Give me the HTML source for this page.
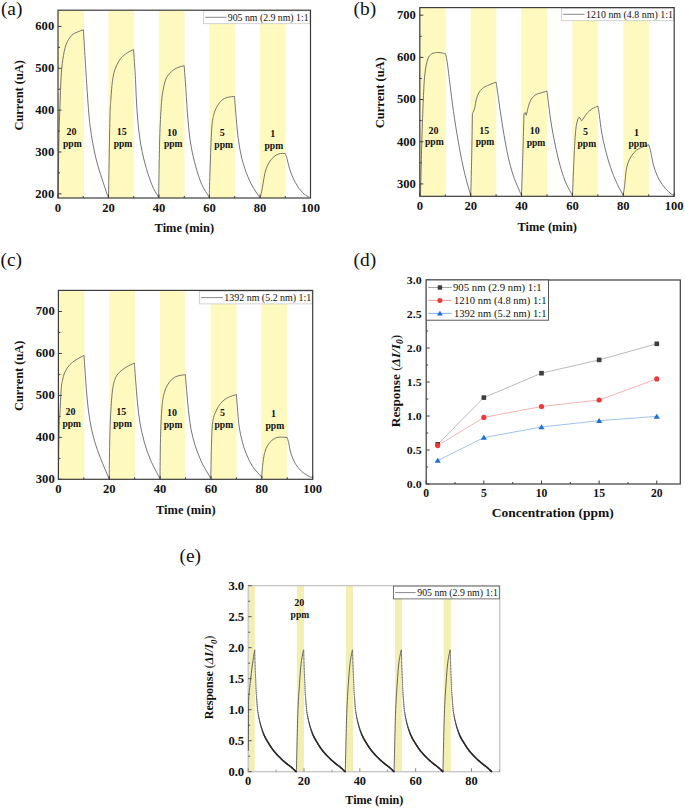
<!DOCTYPE html><html><head><meta charset="utf-8"><style>html,body{margin:0;padding:0;background:#fff;}svg{display:block;}</style></head><body>
<svg width="685" height="809" viewBox="0 0 685 809" font-family="'Liberation Serif', serif">
<rect width="685" height="809" fill="#fff"/>
<rect x="58" y="10.2" width="26" height="187.8" fill="#fef9be" stroke="none" stroke-width="0"/>
<rect x="108.3" y="10.2" width="25.7" height="187.8" fill="#fef9be" stroke="none" stroke-width="0"/>
<rect x="158.8" y="10.2" width="25.8" height="187.8" fill="#fef9be" stroke="none" stroke-width="0"/>
<rect x="209.3" y="10.2" width="25.7" height="187.8" fill="#fef9be" stroke="none" stroke-width="0"/>
<rect x="259.8" y="10.2" width="25.7" height="187.8" fill="#fef9be" stroke="none" stroke-width="0"/>
<path d="M58 197.5 C58.08 192.08 58.32 176.25 58.5 165 C58.68 153.75 58.85 140 59.1 130 C59.35 120 59.67 113.78 60 105 C60.33 96.22 60.63 84.88 61.1 77.3 C61.57 69.72 61.97 64.97 62.8 59.5 C63.63 54.03 64.62 48.52 66.1 44.5 C67.58 40.48 69.8 37.48 71.7 35.4 C73.6 33.32 75.55 32.93 77.5 32 C79.45 31.07 82.42 30.17 83.4 29.8 C83.98 39.28 85.77 70.55 86.9 86.7 C88.03 102.85 88.72 114.85 90.2 126.7 C91.68 138.55 93.77 148.92 95.8 157.8 C97.83 166.68 100.43 173.7 102.4 180 C104.37 186.3 106.58 192.68 107.6 195.6 C108.62 198.52 108.35 197.18 108.5 197.5 C108.73 184.58 109.5 136.37 109.9 120 C110.3 103.63 110.48 105.72 110.9 99.3 C111.32 92.88 111.73 86.43 112.4 81.5 C113.07 76.57 113.67 73.32 114.9 69.7 C116.13 66.08 117.98 62.45 119.8 59.8 C121.62 57.15 123.5 55.5 125.8 53.8 C128.1 52.1 132.3 50.3 133.6 49.6 C133.92 54.6 134.95 69.65 135.5 79.6 C136.05 89.55 136.17 99.4 136.9 109.3 C137.63 119.2 138.58 130.08 139.9 139 C141.22 147.92 142.82 155.2 144.8 162.8 C146.78 170.4 149.58 179 151.8 184.6 C154.02 190.2 156.97 194.25 158.1 196.4 C159.23 198.55 158.52 197.32 158.6 197.5 C158.78 187.75 159.25 154.37 159.7 139 C160.15 123.63 160.72 113.55 161.3 105.3 C161.88 97.05 162.32 94.12 163.2 89.5 C164.08 84.88 165.03 80.73 166.6 77.6 C168.17 74.47 170.78 72.35 172.6 70.7 C174.42 69.05 175.57 68.53 177.5 67.7 C179.43 66.87 183.08 66.03 184.2 65.7 C184.48 69.67 185.28 80.58 185.9 89.5 C186.52 98.42 187.07 109.95 187.9 119.2 C188.73 128.45 189.58 137.08 190.9 145 C192.22 152.92 193.98 160.1 195.8 166.7 C197.62 173.3 199.65 179.65 201.8 184.6 C203.95 189.55 207.47 194.25 208.7 196.4 C209.93 198.55 209.12 197.32 209.2 197.5 C209.35 192.7 209.68 180.1 210.1 168.7 C210.52 157.3 211.1 138.02 211.7 129.1 C212.3 120.18 212.88 118.83 213.7 115.2 C214.52 111.57 215.28 109.77 216.6 107.3 C217.92 104.83 219.78 102.05 221.6 100.4 C223.42 98.75 225.35 98.07 227.5 97.4 C229.65 96.73 233.33 96.57 234.5 96.4 C234.8 100.2 235.67 112.1 236.3 119.2 C236.93 126.3 237.37 132.4 238.3 139 C239.23 145.6 240.32 152.53 241.9 158.8 C243.48 165.07 245.82 171.65 247.8 176.6 C249.78 181.55 251.88 185.13 253.8 188.5 C255.72 191.87 258.3 195.3 259.3 196.8 C260.3 198.3 259.72 197.38 259.8 197.5 C259.9 197.42 260 198.45 260.4 197 C260.8 195.55 261.62 191.9 262.2 188.8 C262.78 185.7 263.25 181.72 263.9 178.4 C264.55 175.08 265.17 171.63 266.1 168.9 C267.03 166.17 268.22 164.02 269.5 162 C270.78 159.98 272.22 158.17 273.8 156.8 C275.38 155.43 277.12 154.35 279 153.8 C280.88 153.25 284.08 153.55 285.1 153.5 C285.38 154.2 286.08 155.27 286.8 157.7 C287.52 160.13 288.38 164.78 289.4 168.1 C290.42 171.42 291.45 174.43 292.9 177.6 C294.35 180.77 296.23 184.37 298.1 187.1 C299.97 189.83 302.23 192.3 304.1 194 C305.97 195.7 308.43 196.75 309.3 197.3" fill="none" stroke="#666666" stroke-width="0.9" stroke-linejoin="round" />
<rect x="419.8" y="7.6" width="25.8" height="188.7" fill="#fef9be" stroke="none" stroke-width="0"/>
<rect x="470.6" y="7.6" width="25.6" height="188.7" fill="#fef9be" stroke="none" stroke-width="0"/>
<rect x="521.4" y="7.6" width="25.6" height="188.7" fill="#fef9be" stroke="none" stroke-width="0"/>
<rect x="572.3" y="7.6" width="25.6" height="188.7" fill="#fef9be" stroke="none" stroke-width="0"/>
<rect x="623.3" y="7.6" width="25.6" height="188.7" fill="#fef9be" stroke="none" stroke-width="0"/>
<path d="M420.5 195.4 C420.57 192.5 420.67 187.4 420.9 178 C421.13 168.6 421.5 152.1 421.9 139 C422.3 125.9 422.8 110.28 423.3 99.4 C423.8 88.52 424.13 80.47 424.9 73.7 C425.67 66.93 426.75 62.1 427.9 58.8 C429.05 55.5 430.32 54.95 431.8 53.9 C433.28 52.85 435.27 52.68 436.8 52.5 C438.33 52.32 439.52 52.57 441 52.8 C442.48 53.03 444.92 53.72 445.7 53.9 C446.03 55.87 446.88 59.77 447.7 65.7 C448.52 71.63 449.45 80.58 450.6 89.5 C451.75 98.42 453.1 109.3 454.6 119.2 C456.1 129.1 457.95 139.98 459.6 148.9 C461.25 157.82 462.7 165.1 464.5 172.7 C466.3 180.3 469.35 190.72 470.4 194.5 C471.45 198.28 470.73 195.25 470.8 195.4 C470.98 187.25 471.63 160.13 471.9 146.5 C472.17 132.87 472.32 119.08 472.4 113.6 C472.6 113.17 473.17 112.15 473.6 111 C474.03 109.85 474.57 108.57 475 106.7 C475.43 104.83 475.57 102.1 476.2 99.8 C476.83 97.5 477.78 94.78 478.8 92.9 C479.82 91.02 480.85 89.72 482.3 88.5 C483.75 87.28 485.2 86.67 487.5 85.6 C489.8 84.53 494.67 82.68 496.1 82.1 C496.4 84.18 497.18 89.63 497.9 94.6 C498.62 99.57 499.4 105.27 500.4 111.9 C501.4 118.53 502.6 126.92 503.9 134.4 C505.2 141.88 506.62 149.88 508.2 156.8 C509.78 163.72 511.23 169.55 513.4 175.9 C515.57 182.25 519.85 191.65 521.2 194.9 C522.55 198.15 521.45 195.32 521.5 195.4 C521.77 187.25 522.68 160.13 523.1 146.5 C523.52 132.87 523.85 119.08 524 113.6 C524.23 113.45 525.17 112.85 525.4 112.7 C525.53 113.13 526.07 114.87 526.2 115.3 C526.35 114.73 526.67 113.62 527.1 111.9 C527.53 110.18 528.08 107.17 528.8 105 C529.52 102.83 530.23 100.63 531.4 98.9 C532.57 97.17 534.22 95.6 535.8 94.6 C537.38 93.6 539.03 93.48 540.9 92.9 C542.77 92.32 545.98 91.4 547 91.1 C547.28 93.42 547.98 99.52 548.7 105 C549.42 110.48 550.28 117.67 551.3 124 C552.32 130.33 553.5 136.67 554.8 143 C556.1 149.33 557.38 155.67 559.1 162 C560.82 168.33 562.93 175.52 565.1 181 C567.27 186.48 570.87 192.5 572.1 194.9 C573.33 197.3 572.43 195.32 572.5 195.4 C572.78 188.55 573.67 165.12 574.2 154.3 C574.73 143.48 575.13 136.2 575.7 130.5 C576.27 124.8 576.98 122.33 577.6 120.1 C578.22 117.87 579.1 117.6 579.4 117.1 C579.77 117.72 581.23 120.18 581.6 120.8 C581.97 120.32 582.82 119.25 583.8 117.9 C584.78 116.55 586.13 114.18 587.5 112.7 C588.87 111.22 590.27 110.12 592 109 C593.73 107.88 596.92 106.5 597.9 106 C598.15 107.6 598.78 111.27 599.4 115.6 C600.02 119.93 600.6 126.3 601.6 132 C602.6 137.7 603.9 143.87 605.4 149.8 C606.9 155.73 608.75 162.15 610.6 167.6 C612.45 173.05 614.4 177.92 616.5 182.5 C618.6 187.08 622.08 193 623.2 195.1 C623.47 193.52 624.33 188.03 624.8 184.1 C625.27 180.17 625.48 175.3 626 171.8 C626.52 168.3 626.97 165.78 627.9 163.1 C628.83 160.42 630.15 157.87 631.6 155.7 C633.05 153.53 634.75 151.55 636.6 150.1 C638.45 148.65 640.65 147.88 642.7 147 C644.75 146.12 647.87 145.17 648.9 144.8 C649.22 146 650.07 148.75 650.8 152 C651.53 155.25 652.17 160.18 653.3 164.3 C654.43 168.42 655.85 172.98 657.6 176.7 C659.35 180.42 661.73 183.88 663.8 186.6 C665.87 189.32 668.3 191.52 670 193 C671.7 194.48 673.33 195.08 674 195.5" fill="none" stroke="#666666" stroke-width="0.9" stroke-linejoin="round" />
<rect x="58.5" y="290.4" width="25.8" height="188.9" fill="#fef9be" stroke="none" stroke-width="0"/>
<rect x="109.3" y="290.4" width="25.7" height="188.9" fill="#fef9be" stroke="none" stroke-width="0"/>
<rect x="160" y="290.4" width="25.3" height="188.9" fill="#fef9be" stroke="none" stroke-width="0"/>
<rect x="210.6" y="290.4" width="25.9" height="188.9" fill="#fef9be" stroke="none" stroke-width="0"/>
<rect x="261.5" y="290.4" width="25.8" height="188.9" fill="#fef9be" stroke="none" stroke-width="0"/>
<path d="M58.5 479 C58.53 474.17 58.58 459 58.7 450 C58.82 441 59 431 59.2 425 C59.4 419 59.57 419.93 59.9 414 C60.23 408.07 60.78 394.93 61.2 389.4 C61.62 383.87 61.78 383.68 62.4 380.8 C63.02 377.92 63.67 374.78 64.9 372.1 C66.13 369.42 67.95 366.75 69.8 364.7 C71.65 362.65 73.63 361.33 76 359.8 C78.37 358.27 82.67 356.22 84 355.5 C84.23 358.88 84.87 368.53 85.4 375.8 C85.93 383.07 86.45 391.63 87.2 399.1 C87.95 406.57 88.72 413.72 89.9 420.6 C91.08 427.48 92.52 434.12 94.3 440.4 C96.08 446.68 98.2 452.03 100.6 458.3 C103 464.57 107.27 474.55 108.7 478 C110.13 481.45 109.12 478.83 109.2 479 C109.27 473.75 109.38 457.82 109.6 447.5 C109.82 437.18 110.05 426.35 110.5 417.1 C110.95 407.85 111.57 398.28 112.3 392 C113.03 385.72 113.72 382.68 114.9 379.4 C116.08 376.12 117.45 374.38 119.4 372.3 C121.35 370.22 124.1 368.43 126.6 366.9 C129.1 365.37 133.1 363.73 134.4 363.1 C134.62 366.12 135.18 374.6 135.7 381.2 C136.22 387.8 136.8 395.83 137.5 402.7 C138.2 409.57 138.77 415.82 139.9 422.4 C141.03 428.98 142.52 435.92 144.3 442.2 C146.08 448.48 148.05 454.13 150.6 460.1 C153.15 466.07 158.03 474.85 159.6 478 C161.17 481.15 159.93 478.83 160 479 C160.08 472.27 160.18 450.42 160.5 438.6 C160.82 426.78 161.32 415.57 161.9 408.1 C162.48 400.63 163.05 397.68 164 393.8 C164.95 389.92 166.1 387.35 167.6 384.8 C169.1 382.25 171.2 380 173 378.5 C174.8 377 176.35 376.43 178.4 375.8 C180.45 375.17 184.15 374.88 185.3 374.7 C185.55 377.58 186.25 385.83 186.8 392 C187.35 398.17 187.88 405.43 188.6 411.7 C189.32 417.97 190 423.93 191.1 429.6 C192.2 435.27 193.47 440.32 195.2 445.7 C196.93 451.08 198.95 456.52 201.5 461.9 C204.05 467.28 208.95 475.15 210.5 478 C212.05 480.85 210.75 478.83 210.8 479 C210.9 473.75 211.15 456.33 211.4 447.5 C211.65 438.67 211.92 431.07 212.3 426 C212.68 420.93 213.12 419.48 213.7 417.1 C214.28 414.72 215 413.5 215.8 411.7 C216.6 409.9 217.3 408.1 218.5 406.3 C219.7 404.5 221.35 402.4 223 400.9 C224.65 399.4 226.17 398.37 228.4 397.3 C230.63 396.23 235.07 394.97 236.4 394.5 C236.63 397.52 237.33 407.2 237.8 412.6 C238.27 418 238.48 422.15 239.2 426.9 C239.92 431.65 240.92 436.6 242.1 441.1 C243.28 445.6 244.53 449.63 246.3 453.9 C248.07 458.17 250.2 462.92 252.7 466.7 C255.2 470.48 259.82 474.72 261.3 476.6 C262.78 478.48 261.55 477.77 261.6 478 C261.83 475.4 262.47 466.67 263 462.4 C263.53 458.13 264.02 455.25 264.8 452.4 C265.58 449.55 266.52 447.3 267.7 445.3 C268.88 443.3 270.37 441.7 271.9 440.4 C273.43 439.1 275.35 438.05 276.9 437.5 C278.45 436.95 279.5 437.1 281.2 437.1 C282.9 437.1 286.12 437.43 287.1 437.5 C287.35 438.33 287.93 439.77 288.6 442.5 C289.27 445.23 289.97 450.35 291.1 453.9 C292.23 457.45 293.62 460.85 295.4 463.8 C297.18 466.75 299.43 469.47 301.8 471.6 C304.17 473.73 307.83 475.65 309.6 476.6 C311.37 477.55 311.93 477.18 312.4 477.3" fill="none" stroke="#666666" stroke-width="0.9" stroke-linejoin="round" />
<rect x="248.2" y="585.6" width="6.6" height="186.1" fill="#f3efb2" stroke="none" stroke-width="0"/>
<rect x="296.8" y="585.6" width="7.2" height="186.1" fill="#f3efb2" stroke="none" stroke-width="0"/>
<rect x="346" y="585.6" width="7" height="186.1" fill="#f3efb2" stroke="none" stroke-width="0"/>
<rect x="395" y="585.6" width="7" height="186.1" fill="#f3efb2" stroke="none" stroke-width="0"/>
<rect x="443.7" y="585.6" width="7.2" height="186.1" fill="#f3efb2" stroke="none" stroke-width="0"/>
<rect x="248.2" y="585.6" width="251.5" height="186.1" fill="none" stroke="#c6c6c6" stroke-width="1.35"/>
<line x1="248.2" y1="771.7" x2="251.7" y2="771.7" stroke="#555" stroke-width="1"/>
<line x1="248.2" y1="740.7" x2="251.7" y2="740.7" stroke="#555" stroke-width="1"/>
<line x1="248.2" y1="709.7" x2="251.7" y2="709.7" stroke="#555" stroke-width="1"/>
<line x1="248.2" y1="678.7" x2="251.7" y2="678.7" stroke="#555" stroke-width="1"/>
<line x1="248.2" y1="647.7" x2="251.7" y2="647.7" stroke="#555" stroke-width="1"/>
<line x1="248.2" y1="616.7" x2="251.7" y2="616.7" stroke="#555" stroke-width="1"/>
<line x1="248.2" y1="585.7" x2="251.7" y2="585.7" stroke="#555" stroke-width="1"/>
<line x1="248.2" y1="756.2" x2="250.2" y2="756.2" stroke="#555" stroke-width="1"/>
<line x1="248.2" y1="725.2" x2="250.2" y2="725.2" stroke="#555" stroke-width="1"/>
<line x1="248.2" y1="694.2" x2="250.2" y2="694.2" stroke="#555" stroke-width="1"/>
<line x1="248.2" y1="663.2" x2="250.2" y2="663.2" stroke="#555" stroke-width="1"/>
<line x1="248.2" y1="632.2" x2="250.2" y2="632.2" stroke="#555" stroke-width="1"/>
<line x1="248.2" y1="601.2" x2="250.2" y2="601.2" stroke="#555" stroke-width="1"/>
<line x1="248.2" y1="771.7" x2="248.2" y2="768.2" stroke="#8a8a8a" stroke-width="1"/>
<line x1="304.02" y1="771.7" x2="304.02" y2="768.2" stroke="#8a8a8a" stroke-width="1"/>
<line x1="359.84" y1="771.7" x2="359.84" y2="768.2" stroke="#8a8a8a" stroke-width="1"/>
<line x1="415.66" y1="771.7" x2="415.66" y2="768.2" stroke="#8a8a8a" stroke-width="1"/>
<line x1="471.48" y1="771.7" x2="471.48" y2="768.2" stroke="#8a8a8a" stroke-width="1"/>
<line x1="276.11" y1="771.7" x2="276.11" y2="769.7" stroke="#8a8a8a" stroke-width="1"/>
<line x1="331.93" y1="771.7" x2="331.93" y2="769.7" stroke="#8a8a8a" stroke-width="1"/>
<line x1="387.75" y1="771.7" x2="387.75" y2="769.7" stroke="#8a8a8a" stroke-width="1"/>
<line x1="443.57" y1="771.7" x2="443.57" y2="769.7" stroke="#8a8a8a" stroke-width="1"/>
<line x1="499.39" y1="771.7" x2="499.39" y2="769.7" stroke="#8a8a8a" stroke-width="1"/>
<path d="M248.4 750.7 C248.42 746.42 248.45 733.62 248.5 725 C248.55 716.38 248.5 705.23 248.7 699 C248.9 692.77 249.18 692.57 249.7 687.6 C250.22 682.63 251.22 673.93 251.8 669.2 C252.38 664.47 252.72 662.4 253.2 659.2 C253.68 656 254.45 651.53 254.7 650" fill="none" stroke="#4a4a4a" stroke-width="0.85" stroke-linejoin="round" />
<path d="M296.4 771.7 C296.63 762.17 297.28 729.2 297.8 714.5 C298.32 699.8 298.93 692.13 299.5 683.5 C300.07 674.87 300.53 668.28 301.2 662.7 C301.87 657.12 303.12 652.12 303.5 650" fill="none" stroke="#4a4a4a" stroke-width="0.85" stroke-linejoin="round" />
<path d="M345.3 771.7 C345.53 762.17 346.18 729.2 346.7 714.5 C347.22 699.8 347.83 692.13 348.4 683.5 C348.97 674.87 349.43 668.28 350.1 662.7 C350.77 657.12 352.02 652.12 352.4 650" fill="none" stroke="#4a4a4a" stroke-width="0.85" stroke-linejoin="round" />
<path d="M394.1 771.7 C394.33 762.17 394.98 729.2 395.5 714.5 C396.02 699.8 396.63 692.13 397.2 683.5 C397.77 674.87 398.23 668.28 398.9 662.7 C399.57 657.12 400.82 652.12 401.2 650" fill="none" stroke="#4a4a4a" stroke-width="0.85" stroke-linejoin="round" />
<path d="M442.95 771.7 C443.18 762.17 443.83 729.2 444.35 714.5 C444.87 699.8 445.48 692.13 446.05 683.5 C446.62 674.87 447.08 668.28 447.75 662.7 C448.42 657.12 449.67 652.12 450.05 650" fill="none" stroke="#4a4a4a" stroke-width="0.85" stroke-linejoin="round" />
<polyline points="254.7,650 254.72,650.94 254.75,652.16" fill="none" stroke="#707070" stroke-width="0.80" stroke-linecap="round" stroke-linejoin="round"/>
<polyline points="254.75,652.16 254.78,653.6 254.82,655.22" fill="none" stroke="#707070" stroke-width="0.80" stroke-linecap="round" stroke-linejoin="round"/>
<polyline points="254.82,655.22 254.86,656.96 254.91,658.77" fill="none" stroke="#707070" stroke-width="0.80" stroke-linecap="round" stroke-linejoin="round"/>
<polyline points="254.91,658.77 254.95,660.6 255,662.4" fill="none" stroke="#707070" stroke-width="0.80" stroke-linecap="round" stroke-linejoin="round"/>
<polyline points="255,662.4 255.05,664.12 255.1,665.7" fill="none" stroke="#707070" stroke-width="0.80" stroke-linecap="round" stroke-linejoin="round"/>
<polyline points="255.1,665.7 255.15,667.2 255.21,668.71" fill="none" stroke="#707070" stroke-width="0.80" stroke-linecap="round" stroke-linejoin="round"/>
<polyline points="255.21,668.71 255.27,670.21 255.34,671.7" fill="none" stroke="#707070" stroke-width="0.80" stroke-linecap="round" stroke-linejoin="round"/>
<polyline points="255.34,671.7 255.4,673.18 255.46,674.62" fill="none" stroke="#707070" stroke-width="0.80" stroke-linecap="round" stroke-linejoin="round"/>
<polyline points="255.46,674.62 255.53,676.03 255.59,677.41" fill="none" stroke="#707070" stroke-width="0.80" stroke-linecap="round" stroke-linejoin="round"/>
<polyline points="255.59,677.41 255.65,678.73 255.7,680" fill="none" stroke="#707070" stroke-width="0.80" stroke-linecap="round" stroke-linejoin="round"/>
<polyline points="255.7,680 255.75,681.21 255.79,682.36" fill="none" stroke="#707070" stroke-width="0.80" stroke-linecap="round" stroke-linejoin="round"/>
<polyline points="255.79,682.36 255.83,683.46 255.86,684.52" fill="none" stroke="#707070" stroke-width="0.80" stroke-linecap="round" stroke-linejoin="round"/>
<polyline points="255.86,684.52 255.89,685.54 255.93,686.55" fill="none" stroke="#707070" stroke-width="0.80" stroke-linecap="round" stroke-linejoin="round"/>
<polyline points="255.93,686.55 255.96,687.54 256,688.52" fill="none" stroke="#6f6f6f" stroke-width="0.81" stroke-linecap="round" stroke-linejoin="round"/>
<polyline points="256,688.52 256.05,689.5 256.1,690.5" fill="none" stroke="#6e6e6e" stroke-width="0.81" stroke-linecap="round" stroke-linejoin="round"/>
<polyline points="256.1,690.5 256.16,691.49 256.22,692.46" fill="none" stroke="#6d6d6d" stroke-width="0.82" stroke-linecap="round" stroke-linejoin="round"/>
<polyline points="256.22,692.46 256.28,693.42 256.35,694.36" fill="none" stroke="#6c6c6c" stroke-width="0.83" stroke-linecap="round" stroke-linejoin="round"/>
<polyline points="256.35,694.36 256.42,695.3 256.49,696.24" fill="none" stroke="#6b6b6b" stroke-width="0.84" stroke-linecap="round" stroke-linejoin="round"/>
<polyline points="256.49,696.24 256.57,697.18 256.64,698.14" fill="none" stroke="#6a6a6a" stroke-width="0.86" stroke-linecap="round" stroke-linejoin="round"/>
<polyline points="256.64,698.14 256.72,699.11 256.8,700.1" fill="none" stroke="#696969" stroke-width="0.87" stroke-linecap="round" stroke-linejoin="round"/>
<polyline points="256.8,700.1 256.88,701.12 256.95,702.15" fill="none" stroke="#686868" stroke-width="0.88" stroke-linecap="round" stroke-linejoin="round"/>
<polyline points="256.95,702.15 257.03,703.21 257.1,704.27" fill="none" stroke="#666666" stroke-width="0.89" stroke-linecap="round" stroke-linejoin="round"/>
<polyline points="257.1,704.27 257.18,705.34 257.27,706.41" fill="none" stroke="#656565" stroke-width="0.91" stroke-linecap="round" stroke-linejoin="round"/>
<polyline points="257.27,706.41 257.36,707.47 257.46,708.53" fill="none" stroke="#646464" stroke-width="0.92" stroke-linecap="round" stroke-linejoin="round"/>
<polyline points="257.46,708.53 257.57,709.57 257.7,710.6" fill="none" stroke="#626262" stroke-width="0.94" stroke-linecap="round" stroke-linejoin="round"/>
<polyline points="257.7,710.6 257.84,711.61 257.99,712.63" fill="none" stroke="#606060" stroke-width="0.96" stroke-linecap="round" stroke-linejoin="round"/>
<polyline points="257.99,712.63 258.16,713.63 258.33,714.63" fill="none" stroke="#5d5d5d" stroke-width="0.99" stroke-linecap="round" stroke-linejoin="round"/>
<polyline points="258.33,714.63 258.51,715.62 258.7,716.61" fill="none" stroke="#5b5b5b" stroke-width="1.02" stroke-linecap="round" stroke-linejoin="round"/>
<polyline points="258.7,716.61 258.89,717.58 259.09,718.53" fill="none" stroke="#585858" stroke-width="1.05" stroke-linecap="round" stroke-linejoin="round"/>
<polyline points="259.09,718.53 259.3,719.48 259.5,720.4" fill="none" stroke="#545454" stroke-width="1.08" stroke-linecap="round" stroke-linejoin="round"/>
<polyline points="259.5,720.4 259.71,721.31 259.92,722.19" fill="none" stroke="#515151" stroke-width="1.12" stroke-linecap="round" stroke-linejoin="round"/>
<polyline points="259.92,722.19 260.13,723.06 260.35,723.92" fill="none" stroke="#4e4e4e" stroke-width="1.15" stroke-linecap="round" stroke-linejoin="round"/>
<polyline points="260.35,723.92 260.57,724.77 260.8,725.61" fill="none" stroke="#4a4a4a" stroke-width="1.19" stroke-linecap="round" stroke-linejoin="round"/>
<polyline points="260.8,725.61 261.04,726.44 261.28,727.26" fill="none" stroke="#464646" stroke-width="1.23" stroke-linecap="round" stroke-linejoin="round"/>
<polyline points="261.28,727.26 261.54,728.08 261.8,728.9" fill="none" stroke="#424242" stroke-width="1.27" stroke-linecap="round" stroke-linejoin="round"/>
<polyline points="261.8,728.9 262.07,729.72 262.35,730.52" fill="none" stroke="#3e3e3e" stroke-width="1.31" stroke-linecap="round" stroke-linejoin="round"/>
<polyline points="262.35,730.52 262.63,731.32 262.92,732.12" fill="none" stroke="#3a3a3a" stroke-width="1.36" stroke-linecap="round" stroke-linejoin="round"/>
<polyline points="262.92,732.12 263.22,732.91 263.53,733.69" fill="none" stroke="#353535" stroke-width="1.41" stroke-linecap="round" stroke-linejoin="round"/>
<polyline points="263.53,733.69 263.85,734.47 264.18,735.25" fill="none" stroke="#303030" stroke-width="1.46" stroke-linecap="round" stroke-linejoin="round"/>
<polyline points="264.18,735.25 264.53,736.02 264.9,736.8" fill="none" stroke="#2a2a2a" stroke-width="1.52" stroke-linecap="round" stroke-linejoin="round"/>
<polyline points="264.9,736.8 265.29,737.58 265.7,738.36" fill="none" stroke="#282828" stroke-width="1.55" stroke-linecap="round" stroke-linejoin="round"/>
<polyline points="265.7,738.36 266.12,739.14 266.56,739.91" fill="none" stroke="#282828" stroke-width="1.55" stroke-linecap="round" stroke-linejoin="round"/>
<polyline points="266.56,739.91 267.01,740.69 267.47,741.45" fill="none" stroke="#282828" stroke-width="1.55" stroke-linecap="round" stroke-linejoin="round"/>
<polyline points="267.47,741.45 267.93,742.21 268.39,742.96" fill="none" stroke="#282828" stroke-width="1.55" stroke-linecap="round" stroke-linejoin="round"/>
<polyline points="268.39,742.96 268.85,743.69 269.3,744.4" fill="none" stroke="#282828" stroke-width="1.55" stroke-linecap="round" stroke-linejoin="round"/>
<polyline points="269.3,744.4 269.74,745.1 270.17,745.77" fill="none" stroke="#282828" stroke-width="1.55" stroke-linecap="round" stroke-linejoin="round"/>
<polyline points="270.17,745.77 270.6,746.43 271.03,747.08" fill="none" stroke="#282828" stroke-width="1.55" stroke-linecap="round" stroke-linejoin="round"/>
<polyline points="271.03,747.08 271.46,747.73 271.9,748.36" fill="none" stroke="#282828" stroke-width="1.55" stroke-linecap="round" stroke-linejoin="round"/>
<polyline points="271.9,748.36 272.35,748.99 272.82,749.62" fill="none" stroke="#282828" stroke-width="1.55" stroke-linecap="round" stroke-linejoin="round"/>
<polyline points="272.82,749.62 273.3,750.26 273.8,750.9" fill="none" stroke="#282828" stroke-width="1.55" stroke-linecap="round" stroke-linejoin="round"/>
<polyline points="273.8,750.9 274.32,751.55 274.87,752.2" fill="none" stroke="#282828" stroke-width="1.55" stroke-linecap="round" stroke-linejoin="round"/>
<polyline points="274.87,752.2 275.43,752.85 276,753.5" fill="none" stroke="#282828" stroke-width="1.55" stroke-linecap="round" stroke-linejoin="round"/>
<polyline points="276,753.5 276.58,754.14 277.17,754.79" fill="none" stroke="#282828" stroke-width="1.55" stroke-linecap="round" stroke-linejoin="round"/>
<polyline points="277.17,754.79 277.77,755.43 278.38,756.06" fill="none" stroke="#282828" stroke-width="1.55" stroke-linecap="round" stroke-linejoin="round"/>
<polyline points="278.38,756.06 278.99,756.68 279.6,757.3" fill="none" stroke="#282828" stroke-width="1.55" stroke-linecap="round" stroke-linejoin="round"/>
<polyline points="279.6,757.3 280.22,757.91 280.85,758.52" fill="none" stroke="#282828" stroke-width="1.55" stroke-linecap="round" stroke-linejoin="round"/>
<polyline points="280.85,758.52 281.49,759.13 282.15,759.73" fill="none" stroke="#282828" stroke-width="1.55" stroke-linecap="round" stroke-linejoin="round"/>
<polyline points="282.15,759.73 282.8,760.32 283.45,760.9" fill="none" stroke="#282828" stroke-width="1.55" stroke-linecap="round" stroke-linejoin="round"/>
<polyline points="283.45,760.9 284.11,761.47 284.75,762.03" fill="none" stroke="#282828" stroke-width="1.55" stroke-linecap="round" stroke-linejoin="round"/>
<polyline points="284.75,762.03 285.38,762.58 286,763.1" fill="none" stroke="#282828" stroke-width="1.55" stroke-linecap="round" stroke-linejoin="round"/>
<polyline points="286,763.1 286.61,763.6 287.22,764.09" fill="none" stroke="#282828" stroke-width="1.55" stroke-linecap="round" stroke-linejoin="round"/>
<polyline points="287.22,764.09 287.83,764.56 288.44,765.01" fill="none" stroke="#282828" stroke-width="1.55" stroke-linecap="round" stroke-linejoin="round"/>
<polyline points="288.44,765.01 289.03,765.46 289.62,765.89" fill="none" stroke="#282828" stroke-width="1.55" stroke-linecap="round" stroke-linejoin="round"/>
<polyline points="289.62,765.89 290.19,766.32 290.75,766.75" fill="none" stroke="#282828" stroke-width="1.55" stroke-linecap="round" stroke-linejoin="round"/>
<polyline points="290.75,766.75 291.28,767.17 291.8,767.6" fill="none" stroke="#282828" stroke-width="1.55" stroke-linecap="round" stroke-linejoin="round"/>
<polyline points="291.8,767.6 292.31,768.04 292.82,768.51" fill="none" stroke="#282828" stroke-width="1.55" stroke-linecap="round" stroke-linejoin="round"/>
<polyline points="292.82,768.51 293.34,768.99 293.83,769.47" fill="none" stroke="#282828" stroke-width="1.55" stroke-linecap="round" stroke-linejoin="round"/>
<polyline points="293.83,769.47 294.31,769.93 294.76,770.37" fill="none" stroke="#282828" stroke-width="1.55" stroke-linecap="round" stroke-linejoin="round"/>
<polyline points="294.76,770.37 295.17,770.78 295.54,771.15" fill="none" stroke="#282828" stroke-width="1.55" stroke-linecap="round" stroke-linejoin="round"/>
<polyline points="295.54,771.15 295.85,771.46 296.1,771.7" fill="none" stroke="#282828" stroke-width="1.55" stroke-linecap="round" stroke-linejoin="round"/>
<polyline points="303.7,650 303.72,650.94 303.75,652.16" fill="none" stroke="#707070" stroke-width="0.80" stroke-linecap="round" stroke-linejoin="round"/>
<polyline points="303.75,652.16 303.78,653.6 303.82,655.22" fill="none" stroke="#707070" stroke-width="0.80" stroke-linecap="round" stroke-linejoin="round"/>
<polyline points="303.82,655.22 303.86,656.96 303.91,658.77" fill="none" stroke="#707070" stroke-width="0.80" stroke-linecap="round" stroke-linejoin="round"/>
<polyline points="303.91,658.77 303.95,660.6 304,662.4" fill="none" stroke="#707070" stroke-width="0.80" stroke-linecap="round" stroke-linejoin="round"/>
<polyline points="304,662.4 304.05,664.12 304.1,665.7" fill="none" stroke="#707070" stroke-width="0.80" stroke-linecap="round" stroke-linejoin="round"/>
<polyline points="304.1,665.7 304.15,667.2 304.21,668.71" fill="none" stroke="#707070" stroke-width="0.80" stroke-linecap="round" stroke-linejoin="round"/>
<polyline points="304.21,668.71 304.27,670.21 304.34,671.7" fill="none" stroke="#707070" stroke-width="0.80" stroke-linecap="round" stroke-linejoin="round"/>
<polyline points="304.34,671.7 304.4,673.18 304.46,674.62" fill="none" stroke="#707070" stroke-width="0.80" stroke-linecap="round" stroke-linejoin="round"/>
<polyline points="304.46,674.62 304.53,676.03 304.59,677.41" fill="none" stroke="#707070" stroke-width="0.80" stroke-linecap="round" stroke-linejoin="round"/>
<polyline points="304.59,677.41 304.65,678.73 304.7,680" fill="none" stroke="#707070" stroke-width="0.80" stroke-linecap="round" stroke-linejoin="round"/>
<polyline points="304.7,680 304.75,681.21 304.79,682.36" fill="none" stroke="#707070" stroke-width="0.80" stroke-linecap="round" stroke-linejoin="round"/>
<polyline points="304.79,682.36 304.83,683.46 304.86,684.52" fill="none" stroke="#707070" stroke-width="0.80" stroke-linecap="round" stroke-linejoin="round"/>
<polyline points="304.86,684.52 304.89,685.54 304.93,686.55" fill="none" stroke="#707070" stroke-width="0.80" stroke-linecap="round" stroke-linejoin="round"/>
<polyline points="304.93,686.55 304.96,687.54 305,688.52" fill="none" stroke="#6f6f6f" stroke-width="0.81" stroke-linecap="round" stroke-linejoin="round"/>
<polyline points="305,688.52 305.05,689.5 305.1,690.5" fill="none" stroke="#6e6e6e" stroke-width="0.81" stroke-linecap="round" stroke-linejoin="round"/>
<polyline points="305.1,690.5 305.16,691.49 305.22,692.46" fill="none" stroke="#6d6d6d" stroke-width="0.82" stroke-linecap="round" stroke-linejoin="round"/>
<polyline points="305.22,692.46 305.28,693.42 305.35,694.36" fill="none" stroke="#6c6c6c" stroke-width="0.83" stroke-linecap="round" stroke-linejoin="round"/>
<polyline points="305.35,694.36 305.42,695.3 305.49,696.24" fill="none" stroke="#6b6b6b" stroke-width="0.84" stroke-linecap="round" stroke-linejoin="round"/>
<polyline points="305.49,696.24 305.57,697.18 305.64,698.14" fill="none" stroke="#6a6a6a" stroke-width="0.86" stroke-linecap="round" stroke-linejoin="round"/>
<polyline points="305.64,698.14 305.72,699.11 305.8,700.1" fill="none" stroke="#696969" stroke-width="0.87" stroke-linecap="round" stroke-linejoin="round"/>
<polyline points="305.8,700.1 305.88,701.12 305.95,702.15" fill="none" stroke="#686868" stroke-width="0.88" stroke-linecap="round" stroke-linejoin="round"/>
<polyline points="305.95,702.15 306.03,703.21 306.1,704.27" fill="none" stroke="#666666" stroke-width="0.89" stroke-linecap="round" stroke-linejoin="round"/>
<polyline points="306.1,704.27 306.18,705.34 306.27,706.41" fill="none" stroke="#656565" stroke-width="0.91" stroke-linecap="round" stroke-linejoin="round"/>
<polyline points="306.27,706.41 306.36,707.47 306.46,708.53" fill="none" stroke="#646464" stroke-width="0.92" stroke-linecap="round" stroke-linejoin="round"/>
<polyline points="306.46,708.53 306.57,709.57 306.7,710.6" fill="none" stroke="#626262" stroke-width="0.94" stroke-linecap="round" stroke-linejoin="round"/>
<polyline points="306.7,710.6 306.84,711.61 306.99,712.63" fill="none" stroke="#606060" stroke-width="0.96" stroke-linecap="round" stroke-linejoin="round"/>
<polyline points="306.99,712.63 307.16,713.63 307.33,714.63" fill="none" stroke="#5d5d5d" stroke-width="0.99" stroke-linecap="round" stroke-linejoin="round"/>
<polyline points="307.33,714.63 307.51,715.62 307.7,716.61" fill="none" stroke="#5b5b5b" stroke-width="1.02" stroke-linecap="round" stroke-linejoin="round"/>
<polyline points="307.7,716.61 307.89,717.58 308.09,718.53" fill="none" stroke="#585858" stroke-width="1.05" stroke-linecap="round" stroke-linejoin="round"/>
<polyline points="308.09,718.53 308.3,719.48 308.5,720.4" fill="none" stroke="#545454" stroke-width="1.08" stroke-linecap="round" stroke-linejoin="round"/>
<polyline points="308.5,720.4 308.71,721.31 308.92,722.19" fill="none" stroke="#515151" stroke-width="1.12" stroke-linecap="round" stroke-linejoin="round"/>
<polyline points="308.92,722.19 309.13,723.06 309.35,723.92" fill="none" stroke="#4e4e4e" stroke-width="1.15" stroke-linecap="round" stroke-linejoin="round"/>
<polyline points="309.35,723.92 309.57,724.77 309.8,725.61" fill="none" stroke="#4a4a4a" stroke-width="1.19" stroke-linecap="round" stroke-linejoin="round"/>
<polyline points="309.8,725.61 310.04,726.44 310.28,727.26" fill="none" stroke="#464646" stroke-width="1.23" stroke-linecap="round" stroke-linejoin="round"/>
<polyline points="310.28,727.26 310.54,728.08 310.8,728.9" fill="none" stroke="#424242" stroke-width="1.27" stroke-linecap="round" stroke-linejoin="round"/>
<polyline points="310.8,728.9 311.07,729.72 311.35,730.52" fill="none" stroke="#3e3e3e" stroke-width="1.31" stroke-linecap="round" stroke-linejoin="round"/>
<polyline points="311.35,730.52 311.63,731.32 311.92,732.12" fill="none" stroke="#3a3a3a" stroke-width="1.36" stroke-linecap="round" stroke-linejoin="round"/>
<polyline points="311.92,732.12 312.22,732.91 312.53,733.69" fill="none" stroke="#353535" stroke-width="1.41" stroke-linecap="round" stroke-linejoin="round"/>
<polyline points="312.53,733.69 312.85,734.47 313.18,735.25" fill="none" stroke="#303030" stroke-width="1.46" stroke-linecap="round" stroke-linejoin="round"/>
<polyline points="313.18,735.25 313.53,736.02 313.9,736.8" fill="none" stroke="#2a2a2a" stroke-width="1.52" stroke-linecap="round" stroke-linejoin="round"/>
<polyline points="313.9,736.8 314.29,737.58 314.7,738.36" fill="none" stroke="#282828" stroke-width="1.55" stroke-linecap="round" stroke-linejoin="round"/>
<polyline points="314.7,738.36 315.12,739.14 315.56,739.91" fill="none" stroke="#282828" stroke-width="1.55" stroke-linecap="round" stroke-linejoin="round"/>
<polyline points="315.56,739.91 316.01,740.69 316.47,741.45" fill="none" stroke="#282828" stroke-width="1.55" stroke-linecap="round" stroke-linejoin="round"/>
<polyline points="316.47,741.45 316.93,742.21 317.39,742.96" fill="none" stroke="#282828" stroke-width="1.55" stroke-linecap="round" stroke-linejoin="round"/>
<polyline points="317.39,742.96 317.85,743.69 318.3,744.4" fill="none" stroke="#282828" stroke-width="1.55" stroke-linecap="round" stroke-linejoin="round"/>
<polyline points="318.3,744.4 318.74,745.1 319.17,745.77" fill="none" stroke="#282828" stroke-width="1.55" stroke-linecap="round" stroke-linejoin="round"/>
<polyline points="319.17,745.77 319.6,746.43 320.03,747.08" fill="none" stroke="#282828" stroke-width="1.55" stroke-linecap="round" stroke-linejoin="round"/>
<polyline points="320.03,747.08 320.46,747.73 320.9,748.36" fill="none" stroke="#282828" stroke-width="1.55" stroke-linecap="round" stroke-linejoin="round"/>
<polyline points="320.9,748.36 321.35,748.99 321.82,749.62" fill="none" stroke="#282828" stroke-width="1.55" stroke-linecap="round" stroke-linejoin="round"/>
<polyline points="321.82,749.62 322.3,750.26 322.8,750.9" fill="none" stroke="#282828" stroke-width="1.55" stroke-linecap="round" stroke-linejoin="round"/>
<polyline points="322.8,750.9 323.32,751.55 323.87,752.2" fill="none" stroke="#282828" stroke-width="1.55" stroke-linecap="round" stroke-linejoin="round"/>
<polyline points="323.87,752.2 324.43,752.85 325,753.5" fill="none" stroke="#282828" stroke-width="1.55" stroke-linecap="round" stroke-linejoin="round"/>
<polyline points="325,753.5 325.58,754.14 326.17,754.79" fill="none" stroke="#282828" stroke-width="1.55" stroke-linecap="round" stroke-linejoin="round"/>
<polyline points="326.17,754.79 326.77,755.43 327.38,756.06" fill="none" stroke="#282828" stroke-width="1.55" stroke-linecap="round" stroke-linejoin="round"/>
<polyline points="327.38,756.06 327.99,756.68 328.6,757.3" fill="none" stroke="#282828" stroke-width="1.55" stroke-linecap="round" stroke-linejoin="round"/>
<polyline points="328.6,757.3 329.22,757.91 329.85,758.52" fill="none" stroke="#282828" stroke-width="1.55" stroke-linecap="round" stroke-linejoin="round"/>
<polyline points="329.85,758.52 330.49,759.13 331.15,759.73" fill="none" stroke="#282828" stroke-width="1.55" stroke-linecap="round" stroke-linejoin="round"/>
<polyline points="331.15,759.73 331.8,760.32 332.45,760.9" fill="none" stroke="#282828" stroke-width="1.55" stroke-linecap="round" stroke-linejoin="round"/>
<polyline points="332.45,760.9 333.11,761.47 333.75,762.03" fill="none" stroke="#282828" stroke-width="1.55" stroke-linecap="round" stroke-linejoin="round"/>
<polyline points="333.75,762.03 334.38,762.58 335,763.1" fill="none" stroke="#282828" stroke-width="1.55" stroke-linecap="round" stroke-linejoin="round"/>
<polyline points="335,763.1 335.61,763.6 336.22,764.09" fill="none" stroke="#282828" stroke-width="1.55" stroke-linecap="round" stroke-linejoin="round"/>
<polyline points="336.22,764.09 336.83,764.56 337.44,765.01" fill="none" stroke="#282828" stroke-width="1.55" stroke-linecap="round" stroke-linejoin="round"/>
<polyline points="337.44,765.01 338.03,765.46 338.62,765.89" fill="none" stroke="#282828" stroke-width="1.55" stroke-linecap="round" stroke-linejoin="round"/>
<polyline points="338.62,765.89 339.19,766.32 339.75,766.75" fill="none" stroke="#282828" stroke-width="1.55" stroke-linecap="round" stroke-linejoin="round"/>
<polyline points="339.75,766.75 340.28,767.17 340.8,767.6" fill="none" stroke="#282828" stroke-width="1.55" stroke-linecap="round" stroke-linejoin="round"/>
<polyline points="340.8,767.6 341.31,768.04 341.82,768.51" fill="none" stroke="#282828" stroke-width="1.55" stroke-linecap="round" stroke-linejoin="round"/>
<polyline points="341.82,768.51 342.34,768.99 342.83,769.47" fill="none" stroke="#282828" stroke-width="1.55" stroke-linecap="round" stroke-linejoin="round"/>
<polyline points="342.83,769.47 343.31,769.93 343.76,770.37" fill="none" stroke="#282828" stroke-width="1.55" stroke-linecap="round" stroke-linejoin="round"/>
<polyline points="343.76,770.37 344.17,770.78 344.54,771.15" fill="none" stroke="#282828" stroke-width="1.55" stroke-linecap="round" stroke-linejoin="round"/>
<polyline points="344.54,771.15 344.85,771.46 345.1,771.7" fill="none" stroke="#282828" stroke-width="1.55" stroke-linecap="round" stroke-linejoin="round"/>
<polyline points="352.6,650 352.62,650.94 352.65,652.16" fill="none" stroke="#707070" stroke-width="0.80" stroke-linecap="round" stroke-linejoin="round"/>
<polyline points="352.65,652.16 352.68,653.6 352.72,655.22" fill="none" stroke="#707070" stroke-width="0.80" stroke-linecap="round" stroke-linejoin="round"/>
<polyline points="352.72,655.22 352.76,656.96 352.81,658.77" fill="none" stroke="#707070" stroke-width="0.80" stroke-linecap="round" stroke-linejoin="round"/>
<polyline points="352.81,658.77 352.85,660.6 352.9,662.4" fill="none" stroke="#707070" stroke-width="0.80" stroke-linecap="round" stroke-linejoin="round"/>
<polyline points="352.9,662.4 352.95,664.12 353,665.7" fill="none" stroke="#707070" stroke-width="0.80" stroke-linecap="round" stroke-linejoin="round"/>
<polyline points="353,665.7 353.05,667.2 353.11,668.71" fill="none" stroke="#707070" stroke-width="0.80" stroke-linecap="round" stroke-linejoin="round"/>
<polyline points="353.11,668.71 353.17,670.21 353.24,671.7" fill="none" stroke="#707070" stroke-width="0.80" stroke-linecap="round" stroke-linejoin="round"/>
<polyline points="353.24,671.7 353.3,673.18 353.36,674.62" fill="none" stroke="#707070" stroke-width="0.80" stroke-linecap="round" stroke-linejoin="round"/>
<polyline points="353.36,674.62 353.43,676.03 353.49,677.41" fill="none" stroke="#707070" stroke-width="0.80" stroke-linecap="round" stroke-linejoin="round"/>
<polyline points="353.49,677.41 353.55,678.73 353.6,680" fill="none" stroke="#707070" stroke-width="0.80" stroke-linecap="round" stroke-linejoin="round"/>
<polyline points="353.6,680 353.65,681.21 353.69,682.36" fill="none" stroke="#707070" stroke-width="0.80" stroke-linecap="round" stroke-linejoin="round"/>
<polyline points="353.69,682.36 353.73,683.46 353.76,684.52" fill="none" stroke="#707070" stroke-width="0.80" stroke-linecap="round" stroke-linejoin="round"/>
<polyline points="353.76,684.52 353.79,685.54 353.83,686.55" fill="none" stroke="#707070" stroke-width="0.80" stroke-linecap="round" stroke-linejoin="round"/>
<polyline points="353.83,686.55 353.86,687.54 353.9,688.52" fill="none" stroke="#6f6f6f" stroke-width="0.81" stroke-linecap="round" stroke-linejoin="round"/>
<polyline points="353.9,688.52 353.95,689.5 354,690.5" fill="none" stroke="#6e6e6e" stroke-width="0.81" stroke-linecap="round" stroke-linejoin="round"/>
<polyline points="354,690.5 354.06,691.49 354.12,692.46" fill="none" stroke="#6d6d6d" stroke-width="0.82" stroke-linecap="round" stroke-linejoin="round"/>
<polyline points="354.12,692.46 354.18,693.42 354.25,694.36" fill="none" stroke="#6c6c6c" stroke-width="0.83" stroke-linecap="round" stroke-linejoin="round"/>
<polyline points="354.25,694.36 354.32,695.3 354.39,696.24" fill="none" stroke="#6b6b6b" stroke-width="0.84" stroke-linecap="round" stroke-linejoin="round"/>
<polyline points="354.39,696.24 354.47,697.18 354.54,698.14" fill="none" stroke="#6a6a6a" stroke-width="0.86" stroke-linecap="round" stroke-linejoin="round"/>
<polyline points="354.54,698.14 354.62,699.11 354.7,700.1" fill="none" stroke="#696969" stroke-width="0.87" stroke-linecap="round" stroke-linejoin="round"/>
<polyline points="354.7,700.1 354.78,701.12 354.85,702.15" fill="none" stroke="#686868" stroke-width="0.88" stroke-linecap="round" stroke-linejoin="round"/>
<polyline points="354.85,702.15 354.93,703.21 355,704.27" fill="none" stroke="#666666" stroke-width="0.89" stroke-linecap="round" stroke-linejoin="round"/>
<polyline points="355,704.27 355.08,705.34 355.17,706.41" fill="none" stroke="#656565" stroke-width="0.91" stroke-linecap="round" stroke-linejoin="round"/>
<polyline points="355.17,706.41 355.26,707.47 355.36,708.53" fill="none" stroke="#646464" stroke-width="0.92" stroke-linecap="round" stroke-linejoin="round"/>
<polyline points="355.36,708.53 355.47,709.57 355.6,710.6" fill="none" stroke="#626262" stroke-width="0.94" stroke-linecap="round" stroke-linejoin="round"/>
<polyline points="355.6,710.6 355.74,711.61 355.89,712.63" fill="none" stroke="#606060" stroke-width="0.96" stroke-linecap="round" stroke-linejoin="round"/>
<polyline points="355.89,712.63 356.06,713.63 356.23,714.63" fill="none" stroke="#5d5d5d" stroke-width="0.99" stroke-linecap="round" stroke-linejoin="round"/>
<polyline points="356.23,714.63 356.41,715.62 356.6,716.61" fill="none" stroke="#5b5b5b" stroke-width="1.02" stroke-linecap="round" stroke-linejoin="round"/>
<polyline points="356.6,716.61 356.79,717.58 356.99,718.53" fill="none" stroke="#585858" stroke-width="1.05" stroke-linecap="round" stroke-linejoin="round"/>
<polyline points="356.99,718.53 357.2,719.48 357.4,720.4" fill="none" stroke="#545454" stroke-width="1.08" stroke-linecap="round" stroke-linejoin="round"/>
<polyline points="357.4,720.4 357.61,721.31 357.82,722.19" fill="none" stroke="#515151" stroke-width="1.12" stroke-linecap="round" stroke-linejoin="round"/>
<polyline points="357.82,722.19 358.03,723.06 358.25,723.92" fill="none" stroke="#4e4e4e" stroke-width="1.15" stroke-linecap="round" stroke-linejoin="round"/>
<polyline points="358.25,723.92 358.47,724.77 358.7,725.61" fill="none" stroke="#4a4a4a" stroke-width="1.19" stroke-linecap="round" stroke-linejoin="round"/>
<polyline points="358.7,725.61 358.94,726.44 359.18,727.26" fill="none" stroke="#464646" stroke-width="1.23" stroke-linecap="round" stroke-linejoin="round"/>
<polyline points="359.18,727.26 359.44,728.08 359.7,728.9" fill="none" stroke="#424242" stroke-width="1.27" stroke-linecap="round" stroke-linejoin="round"/>
<polyline points="359.7,728.9 359.97,729.72 360.25,730.52" fill="none" stroke="#3e3e3e" stroke-width="1.31" stroke-linecap="round" stroke-linejoin="round"/>
<polyline points="360.25,730.52 360.53,731.32 360.82,732.12" fill="none" stroke="#3a3a3a" stroke-width="1.36" stroke-linecap="round" stroke-linejoin="round"/>
<polyline points="360.82,732.12 361.12,732.91 361.43,733.69" fill="none" stroke="#353535" stroke-width="1.41" stroke-linecap="round" stroke-linejoin="round"/>
<polyline points="361.43,733.69 361.75,734.47 362.08,735.25" fill="none" stroke="#303030" stroke-width="1.46" stroke-linecap="round" stroke-linejoin="round"/>
<polyline points="362.08,735.25 362.43,736.02 362.8,736.8" fill="none" stroke="#2a2a2a" stroke-width="1.52" stroke-linecap="round" stroke-linejoin="round"/>
<polyline points="362.8,736.8 363.19,737.58 363.6,738.36" fill="none" stroke="#282828" stroke-width="1.55" stroke-linecap="round" stroke-linejoin="round"/>
<polyline points="363.6,738.36 364.02,739.14 364.46,739.91" fill="none" stroke="#282828" stroke-width="1.55" stroke-linecap="round" stroke-linejoin="round"/>
<polyline points="364.46,739.91 364.91,740.69 365.37,741.45" fill="none" stroke="#282828" stroke-width="1.55" stroke-linecap="round" stroke-linejoin="round"/>
<polyline points="365.37,741.45 365.83,742.21 366.29,742.96" fill="none" stroke="#282828" stroke-width="1.55" stroke-linecap="round" stroke-linejoin="round"/>
<polyline points="366.29,742.96 366.75,743.69 367.2,744.4" fill="none" stroke="#282828" stroke-width="1.55" stroke-linecap="round" stroke-linejoin="round"/>
<polyline points="367.2,744.4 367.64,745.1 368.07,745.77" fill="none" stroke="#282828" stroke-width="1.55" stroke-linecap="round" stroke-linejoin="round"/>
<polyline points="368.07,745.77 368.5,746.43 368.93,747.08" fill="none" stroke="#282828" stroke-width="1.55" stroke-linecap="round" stroke-linejoin="round"/>
<polyline points="368.93,747.08 369.36,747.73 369.8,748.36" fill="none" stroke="#282828" stroke-width="1.55" stroke-linecap="round" stroke-linejoin="round"/>
<polyline points="369.8,748.36 370.25,748.99 370.72,749.62" fill="none" stroke="#282828" stroke-width="1.55" stroke-linecap="round" stroke-linejoin="round"/>
<polyline points="370.72,749.62 371.2,750.26 371.7,750.9" fill="none" stroke="#282828" stroke-width="1.55" stroke-linecap="round" stroke-linejoin="round"/>
<polyline points="371.7,750.9 372.22,751.55 372.77,752.2" fill="none" stroke="#282828" stroke-width="1.55" stroke-linecap="round" stroke-linejoin="round"/>
<polyline points="372.77,752.2 373.33,752.85 373.9,753.5" fill="none" stroke="#282828" stroke-width="1.55" stroke-linecap="round" stroke-linejoin="round"/>
<polyline points="373.9,753.5 374.48,754.14 375.07,754.79" fill="none" stroke="#282828" stroke-width="1.55" stroke-linecap="round" stroke-linejoin="round"/>
<polyline points="375.07,754.79 375.67,755.43 376.28,756.06" fill="none" stroke="#282828" stroke-width="1.55" stroke-linecap="round" stroke-linejoin="round"/>
<polyline points="376.28,756.06 376.89,756.68 377.5,757.3" fill="none" stroke="#282828" stroke-width="1.55" stroke-linecap="round" stroke-linejoin="round"/>
<polyline points="377.5,757.3 378.12,757.91 378.75,758.52" fill="none" stroke="#282828" stroke-width="1.55" stroke-linecap="round" stroke-linejoin="round"/>
<polyline points="378.75,758.52 379.39,759.13 380.05,759.73" fill="none" stroke="#282828" stroke-width="1.55" stroke-linecap="round" stroke-linejoin="round"/>
<polyline points="380.05,759.73 380.7,760.32 381.35,760.9" fill="none" stroke="#282828" stroke-width="1.55" stroke-linecap="round" stroke-linejoin="round"/>
<polyline points="381.35,760.9 382.01,761.47 382.65,762.03" fill="none" stroke="#282828" stroke-width="1.55" stroke-linecap="round" stroke-linejoin="round"/>
<polyline points="382.65,762.03 383.28,762.58 383.9,763.1" fill="none" stroke="#282828" stroke-width="1.55" stroke-linecap="round" stroke-linejoin="round"/>
<polyline points="383.9,763.1 384.51,763.6 385.12,764.09" fill="none" stroke="#282828" stroke-width="1.55" stroke-linecap="round" stroke-linejoin="round"/>
<polyline points="385.12,764.09 385.73,764.56 386.34,765.01" fill="none" stroke="#282828" stroke-width="1.55" stroke-linecap="round" stroke-linejoin="round"/>
<polyline points="386.34,765.01 386.93,765.46 387.52,765.89" fill="none" stroke="#282828" stroke-width="1.55" stroke-linecap="round" stroke-linejoin="round"/>
<polyline points="387.52,765.89 388.09,766.32 388.65,766.75" fill="none" stroke="#282828" stroke-width="1.55" stroke-linecap="round" stroke-linejoin="round"/>
<polyline points="388.65,766.75 389.18,767.17 389.7,767.6" fill="none" stroke="#282828" stroke-width="1.55" stroke-linecap="round" stroke-linejoin="round"/>
<polyline points="389.7,767.6 390.21,768.04 390.72,768.51" fill="none" stroke="#282828" stroke-width="1.55" stroke-linecap="round" stroke-linejoin="round"/>
<polyline points="390.72,768.51 391.24,768.99 391.73,769.47" fill="none" stroke="#282828" stroke-width="1.55" stroke-linecap="round" stroke-linejoin="round"/>
<polyline points="391.73,769.47 392.21,769.93 392.66,770.37" fill="none" stroke="#282828" stroke-width="1.55" stroke-linecap="round" stroke-linejoin="round"/>
<polyline points="392.66,770.37 393.07,770.78 393.44,771.15" fill="none" stroke="#282828" stroke-width="1.55" stroke-linecap="round" stroke-linejoin="round"/>
<polyline points="393.44,771.15 393.75,771.46 394,771.7" fill="none" stroke="#282828" stroke-width="1.55" stroke-linecap="round" stroke-linejoin="round"/>
<polyline points="401.4,650 401.42,650.94 401.45,652.16" fill="none" stroke="#707070" stroke-width="0.80" stroke-linecap="round" stroke-linejoin="round"/>
<polyline points="401.45,652.16 401.48,653.6 401.52,655.22" fill="none" stroke="#707070" stroke-width="0.80" stroke-linecap="round" stroke-linejoin="round"/>
<polyline points="401.52,655.22 401.56,656.96 401.61,658.77" fill="none" stroke="#707070" stroke-width="0.80" stroke-linecap="round" stroke-linejoin="round"/>
<polyline points="401.61,658.77 401.65,660.6 401.7,662.4" fill="none" stroke="#707070" stroke-width="0.80" stroke-linecap="round" stroke-linejoin="round"/>
<polyline points="401.7,662.4 401.75,664.12 401.8,665.7" fill="none" stroke="#707070" stroke-width="0.80" stroke-linecap="round" stroke-linejoin="round"/>
<polyline points="401.8,665.7 401.85,667.2 401.91,668.71" fill="none" stroke="#707070" stroke-width="0.80" stroke-linecap="round" stroke-linejoin="round"/>
<polyline points="401.91,668.71 401.97,670.21 402.04,671.7" fill="none" stroke="#707070" stroke-width="0.80" stroke-linecap="round" stroke-linejoin="round"/>
<polyline points="402.04,671.7 402.1,673.18 402.16,674.62" fill="none" stroke="#707070" stroke-width="0.80" stroke-linecap="round" stroke-linejoin="round"/>
<polyline points="402.16,674.62 402.23,676.03 402.29,677.41" fill="none" stroke="#707070" stroke-width="0.80" stroke-linecap="round" stroke-linejoin="round"/>
<polyline points="402.29,677.41 402.35,678.73 402.4,680" fill="none" stroke="#707070" stroke-width="0.80" stroke-linecap="round" stroke-linejoin="round"/>
<polyline points="402.4,680 402.45,681.21 402.49,682.36" fill="none" stroke="#707070" stroke-width="0.80" stroke-linecap="round" stroke-linejoin="round"/>
<polyline points="402.49,682.36 402.53,683.46 402.56,684.52" fill="none" stroke="#707070" stroke-width="0.80" stroke-linecap="round" stroke-linejoin="round"/>
<polyline points="402.56,684.52 402.59,685.54 402.63,686.55" fill="none" stroke="#707070" stroke-width="0.80" stroke-linecap="round" stroke-linejoin="round"/>
<polyline points="402.63,686.55 402.66,687.54 402.7,688.52" fill="none" stroke="#6f6f6f" stroke-width="0.81" stroke-linecap="round" stroke-linejoin="round"/>
<polyline points="402.7,688.52 402.75,689.5 402.8,690.5" fill="none" stroke="#6e6e6e" stroke-width="0.81" stroke-linecap="round" stroke-linejoin="round"/>
<polyline points="402.8,690.5 402.86,691.49 402.92,692.46" fill="none" stroke="#6d6d6d" stroke-width="0.82" stroke-linecap="round" stroke-linejoin="round"/>
<polyline points="402.92,692.46 402.98,693.42 403.05,694.36" fill="none" stroke="#6c6c6c" stroke-width="0.83" stroke-linecap="round" stroke-linejoin="round"/>
<polyline points="403.05,694.36 403.12,695.3 403.19,696.24" fill="none" stroke="#6b6b6b" stroke-width="0.84" stroke-linecap="round" stroke-linejoin="round"/>
<polyline points="403.19,696.24 403.27,697.18 403.34,698.14" fill="none" stroke="#6a6a6a" stroke-width="0.86" stroke-linecap="round" stroke-linejoin="round"/>
<polyline points="403.34,698.14 403.42,699.11 403.5,700.1" fill="none" stroke="#696969" stroke-width="0.87" stroke-linecap="round" stroke-linejoin="round"/>
<polyline points="403.5,700.1 403.58,701.12 403.65,702.15" fill="none" stroke="#686868" stroke-width="0.88" stroke-linecap="round" stroke-linejoin="round"/>
<polyline points="403.65,702.15 403.73,703.21 403.8,704.27" fill="none" stroke="#666666" stroke-width="0.89" stroke-linecap="round" stroke-linejoin="round"/>
<polyline points="403.8,704.27 403.88,705.34 403.97,706.41" fill="none" stroke="#656565" stroke-width="0.91" stroke-linecap="round" stroke-linejoin="round"/>
<polyline points="403.97,706.41 404.06,707.47 404.16,708.53" fill="none" stroke="#646464" stroke-width="0.92" stroke-linecap="round" stroke-linejoin="round"/>
<polyline points="404.16,708.53 404.27,709.57 404.4,710.6" fill="none" stroke="#626262" stroke-width="0.94" stroke-linecap="round" stroke-linejoin="round"/>
<polyline points="404.4,710.6 404.54,711.61 404.69,712.63" fill="none" stroke="#606060" stroke-width="0.96" stroke-linecap="round" stroke-linejoin="round"/>
<polyline points="404.69,712.63 404.86,713.63 405.03,714.63" fill="none" stroke="#5d5d5d" stroke-width="0.99" stroke-linecap="round" stroke-linejoin="round"/>
<polyline points="405.03,714.63 405.21,715.62 405.4,716.61" fill="none" stroke="#5b5b5b" stroke-width="1.02" stroke-linecap="round" stroke-linejoin="round"/>
<polyline points="405.4,716.61 405.59,717.58 405.79,718.53" fill="none" stroke="#585858" stroke-width="1.05" stroke-linecap="round" stroke-linejoin="round"/>
<polyline points="405.79,718.53 406,719.48 406.2,720.4" fill="none" stroke="#545454" stroke-width="1.08" stroke-linecap="round" stroke-linejoin="round"/>
<polyline points="406.2,720.4 406.41,721.31 406.62,722.19" fill="none" stroke="#515151" stroke-width="1.12" stroke-linecap="round" stroke-linejoin="round"/>
<polyline points="406.62,722.19 406.83,723.06 407.05,723.92" fill="none" stroke="#4e4e4e" stroke-width="1.15" stroke-linecap="round" stroke-linejoin="round"/>
<polyline points="407.05,723.92 407.27,724.77 407.5,725.61" fill="none" stroke="#4a4a4a" stroke-width="1.19" stroke-linecap="round" stroke-linejoin="round"/>
<polyline points="407.5,725.61 407.74,726.44 407.98,727.26" fill="none" stroke="#464646" stroke-width="1.23" stroke-linecap="round" stroke-linejoin="round"/>
<polyline points="407.98,727.26 408.24,728.08 408.5,728.9" fill="none" stroke="#424242" stroke-width="1.27" stroke-linecap="round" stroke-linejoin="round"/>
<polyline points="408.5,728.9 408.77,729.72 409.05,730.52" fill="none" stroke="#3e3e3e" stroke-width="1.31" stroke-linecap="round" stroke-linejoin="round"/>
<polyline points="409.05,730.52 409.33,731.32 409.62,732.12" fill="none" stroke="#3a3a3a" stroke-width="1.36" stroke-linecap="round" stroke-linejoin="round"/>
<polyline points="409.62,732.12 409.92,732.91 410.23,733.69" fill="none" stroke="#353535" stroke-width="1.41" stroke-linecap="round" stroke-linejoin="round"/>
<polyline points="410.23,733.69 410.55,734.47 410.88,735.25" fill="none" stroke="#303030" stroke-width="1.46" stroke-linecap="round" stroke-linejoin="round"/>
<polyline points="410.88,735.25 411.23,736.02 411.6,736.8" fill="none" stroke="#2a2a2a" stroke-width="1.52" stroke-linecap="round" stroke-linejoin="round"/>
<polyline points="411.6,736.8 411.99,737.58 412.4,738.36" fill="none" stroke="#282828" stroke-width="1.55" stroke-linecap="round" stroke-linejoin="round"/>
<polyline points="412.4,738.36 412.82,739.14 413.26,739.91" fill="none" stroke="#282828" stroke-width="1.55" stroke-linecap="round" stroke-linejoin="round"/>
<polyline points="413.26,739.91 413.71,740.69 414.17,741.45" fill="none" stroke="#282828" stroke-width="1.55" stroke-linecap="round" stroke-linejoin="round"/>
<polyline points="414.17,741.45 414.63,742.21 415.09,742.96" fill="none" stroke="#282828" stroke-width="1.55" stroke-linecap="round" stroke-linejoin="round"/>
<polyline points="415.09,742.96 415.55,743.69 416,744.4" fill="none" stroke="#282828" stroke-width="1.55" stroke-linecap="round" stroke-linejoin="round"/>
<polyline points="416,744.4 416.44,745.1 416.87,745.77" fill="none" stroke="#282828" stroke-width="1.55" stroke-linecap="round" stroke-linejoin="round"/>
<polyline points="416.87,745.77 417.3,746.43 417.73,747.08" fill="none" stroke="#282828" stroke-width="1.55" stroke-linecap="round" stroke-linejoin="round"/>
<polyline points="417.73,747.08 418.16,747.73 418.6,748.36" fill="none" stroke="#282828" stroke-width="1.55" stroke-linecap="round" stroke-linejoin="round"/>
<polyline points="418.6,748.36 419.05,748.99 419.52,749.62" fill="none" stroke="#282828" stroke-width="1.55" stroke-linecap="round" stroke-linejoin="round"/>
<polyline points="419.52,749.62 420,750.26 420.5,750.9" fill="none" stroke="#282828" stroke-width="1.55" stroke-linecap="round" stroke-linejoin="round"/>
<polyline points="420.5,750.9 421.02,751.55 421.57,752.2" fill="none" stroke="#282828" stroke-width="1.55" stroke-linecap="round" stroke-linejoin="round"/>
<polyline points="421.57,752.2 422.13,752.85 422.7,753.5" fill="none" stroke="#282828" stroke-width="1.55" stroke-linecap="round" stroke-linejoin="round"/>
<polyline points="422.7,753.5 423.28,754.14 423.87,754.79" fill="none" stroke="#282828" stroke-width="1.55" stroke-linecap="round" stroke-linejoin="round"/>
<polyline points="423.87,754.79 424.47,755.43 425.08,756.06" fill="none" stroke="#282828" stroke-width="1.55" stroke-linecap="round" stroke-linejoin="round"/>
<polyline points="425.08,756.06 425.69,756.68 426.3,757.3" fill="none" stroke="#282828" stroke-width="1.55" stroke-linecap="round" stroke-linejoin="round"/>
<polyline points="426.3,757.3 426.92,757.91 427.55,758.52" fill="none" stroke="#282828" stroke-width="1.55" stroke-linecap="round" stroke-linejoin="round"/>
<polyline points="427.55,758.52 428.19,759.13 428.85,759.73" fill="none" stroke="#282828" stroke-width="1.55" stroke-linecap="round" stroke-linejoin="round"/>
<polyline points="428.85,759.73 429.5,760.32 430.15,760.9" fill="none" stroke="#282828" stroke-width="1.55" stroke-linecap="round" stroke-linejoin="round"/>
<polyline points="430.15,760.9 430.81,761.47 431.45,762.03" fill="none" stroke="#282828" stroke-width="1.55" stroke-linecap="round" stroke-linejoin="round"/>
<polyline points="431.45,762.03 432.08,762.58 432.7,763.1" fill="none" stroke="#282828" stroke-width="1.55" stroke-linecap="round" stroke-linejoin="round"/>
<polyline points="432.7,763.1 433.31,763.6 433.92,764.09" fill="none" stroke="#282828" stroke-width="1.55" stroke-linecap="round" stroke-linejoin="round"/>
<polyline points="433.92,764.09 434.53,764.56 435.14,765.01" fill="none" stroke="#282828" stroke-width="1.55" stroke-linecap="round" stroke-linejoin="round"/>
<polyline points="435.14,765.01 435.73,765.46 436.32,765.89" fill="none" stroke="#282828" stroke-width="1.55" stroke-linecap="round" stroke-linejoin="round"/>
<polyline points="436.32,765.89 436.89,766.32 437.45,766.75" fill="none" stroke="#282828" stroke-width="1.55" stroke-linecap="round" stroke-linejoin="round"/>
<polyline points="437.45,766.75 437.98,767.17 438.5,767.6" fill="none" stroke="#282828" stroke-width="1.55" stroke-linecap="round" stroke-linejoin="round"/>
<polyline points="438.5,767.6 439.01,768.04 439.52,768.51" fill="none" stroke="#282828" stroke-width="1.55" stroke-linecap="round" stroke-linejoin="round"/>
<polyline points="439.52,768.51 440.04,768.99 440.53,769.47" fill="none" stroke="#282828" stroke-width="1.55" stroke-linecap="round" stroke-linejoin="round"/>
<polyline points="440.53,769.47 441.01,769.93 441.46,770.37" fill="none" stroke="#282828" stroke-width="1.55" stroke-linecap="round" stroke-linejoin="round"/>
<polyline points="441.46,770.37 441.87,770.78 442.24,771.15" fill="none" stroke="#282828" stroke-width="1.55" stroke-linecap="round" stroke-linejoin="round"/>
<polyline points="442.24,771.15 442.55,771.46 442.8,771.7" fill="none" stroke="#282828" stroke-width="1.55" stroke-linecap="round" stroke-linejoin="round"/>
<polyline points="450.25,650 450.27,650.94 450.3,652.16" fill="none" stroke="#707070" stroke-width="0.80" stroke-linecap="round" stroke-linejoin="round"/>
<polyline points="450.3,652.16 450.33,653.6 450.37,655.22" fill="none" stroke="#707070" stroke-width="0.80" stroke-linecap="round" stroke-linejoin="round"/>
<polyline points="450.37,655.22 450.41,656.96 450.46,658.77" fill="none" stroke="#707070" stroke-width="0.80" stroke-linecap="round" stroke-linejoin="round"/>
<polyline points="450.46,658.77 450.5,660.6 450.55,662.4" fill="none" stroke="#707070" stroke-width="0.80" stroke-linecap="round" stroke-linejoin="round"/>
<polyline points="450.55,662.4 450.6,664.12 450.65,665.7" fill="none" stroke="#707070" stroke-width="0.80" stroke-linecap="round" stroke-linejoin="round"/>
<polyline points="450.65,665.7 450.7,667.2 450.76,668.71" fill="none" stroke="#707070" stroke-width="0.80" stroke-linecap="round" stroke-linejoin="round"/>
<polyline points="450.76,668.71 450.82,670.21 450.89,671.7" fill="none" stroke="#707070" stroke-width="0.80" stroke-linecap="round" stroke-linejoin="round"/>
<polyline points="450.89,671.7 450.95,673.18 451.01,674.62" fill="none" stroke="#707070" stroke-width="0.80" stroke-linecap="round" stroke-linejoin="round"/>
<polyline points="451.01,674.62 451.08,676.03 451.14,677.41" fill="none" stroke="#707070" stroke-width="0.80" stroke-linecap="round" stroke-linejoin="round"/>
<polyline points="451.14,677.41 451.2,678.73 451.25,680" fill="none" stroke="#707070" stroke-width="0.80" stroke-linecap="round" stroke-linejoin="round"/>
<polyline points="451.25,680 451.3,681.21 451.34,682.36" fill="none" stroke="#707070" stroke-width="0.80" stroke-linecap="round" stroke-linejoin="round"/>
<polyline points="451.34,682.36 451.38,683.46 451.41,684.52" fill="none" stroke="#707070" stroke-width="0.80" stroke-linecap="round" stroke-linejoin="round"/>
<polyline points="451.41,684.52 451.44,685.54 451.48,686.55" fill="none" stroke="#707070" stroke-width="0.80" stroke-linecap="round" stroke-linejoin="round"/>
<polyline points="451.48,686.55 451.51,687.54 451.55,688.52" fill="none" stroke="#6f6f6f" stroke-width="0.81" stroke-linecap="round" stroke-linejoin="round"/>
<polyline points="451.55,688.52 451.6,689.5 451.65,690.5" fill="none" stroke="#6e6e6e" stroke-width="0.81" stroke-linecap="round" stroke-linejoin="round"/>
<polyline points="451.65,690.5 451.71,691.49 451.77,692.46" fill="none" stroke="#6d6d6d" stroke-width="0.82" stroke-linecap="round" stroke-linejoin="round"/>
<polyline points="451.77,692.46 451.83,693.42 451.9,694.36" fill="none" stroke="#6c6c6c" stroke-width="0.83" stroke-linecap="round" stroke-linejoin="round"/>
<polyline points="451.9,694.36 451.97,695.3 452.04,696.24" fill="none" stroke="#6b6b6b" stroke-width="0.84" stroke-linecap="round" stroke-linejoin="round"/>
<polyline points="452.04,696.24 452.12,697.18 452.19,698.14" fill="none" stroke="#6a6a6a" stroke-width="0.86" stroke-linecap="round" stroke-linejoin="round"/>
<polyline points="452.19,698.14 452.27,699.11 452.35,700.1" fill="none" stroke="#696969" stroke-width="0.87" stroke-linecap="round" stroke-linejoin="round"/>
<polyline points="452.35,700.1 452.43,701.12 452.5,702.15" fill="none" stroke="#686868" stroke-width="0.88" stroke-linecap="round" stroke-linejoin="round"/>
<polyline points="452.5,702.15 452.58,703.21 452.65,704.27" fill="none" stroke="#666666" stroke-width="0.89" stroke-linecap="round" stroke-linejoin="round"/>
<polyline points="452.65,704.27 452.73,705.34 452.82,706.41" fill="none" stroke="#656565" stroke-width="0.91" stroke-linecap="round" stroke-linejoin="round"/>
<polyline points="452.82,706.41 452.91,707.47 453.01,708.53" fill="none" stroke="#646464" stroke-width="0.92" stroke-linecap="round" stroke-linejoin="round"/>
<polyline points="453.01,708.53 453.12,709.57 453.25,710.6" fill="none" stroke="#626262" stroke-width="0.94" stroke-linecap="round" stroke-linejoin="round"/>
<polyline points="453.25,710.6 453.39,711.61 453.54,712.63" fill="none" stroke="#606060" stroke-width="0.96" stroke-linecap="round" stroke-linejoin="round"/>
<polyline points="453.54,712.63 453.71,713.63 453.88,714.63" fill="none" stroke="#5d5d5d" stroke-width="0.99" stroke-linecap="round" stroke-linejoin="round"/>
<polyline points="453.88,714.63 454.06,715.62 454.25,716.61" fill="none" stroke="#5b5b5b" stroke-width="1.02" stroke-linecap="round" stroke-linejoin="round"/>
<polyline points="454.25,716.61 454.44,717.58 454.64,718.53" fill="none" stroke="#585858" stroke-width="1.05" stroke-linecap="round" stroke-linejoin="round"/>
<polyline points="454.64,718.53 454.85,719.48 455.05,720.4" fill="none" stroke="#545454" stroke-width="1.08" stroke-linecap="round" stroke-linejoin="round"/>
<polyline points="455.05,720.4 455.26,721.31 455.47,722.19" fill="none" stroke="#515151" stroke-width="1.12" stroke-linecap="round" stroke-linejoin="round"/>
<polyline points="455.47,722.19 455.68,723.06 455.9,723.92" fill="none" stroke="#4e4e4e" stroke-width="1.15" stroke-linecap="round" stroke-linejoin="round"/>
<polyline points="455.9,723.92 456.12,724.77 456.35,725.61" fill="none" stroke="#4a4a4a" stroke-width="1.19" stroke-linecap="round" stroke-linejoin="round"/>
<polyline points="456.35,725.61 456.59,726.44 456.83,727.26" fill="none" stroke="#464646" stroke-width="1.23" stroke-linecap="round" stroke-linejoin="round"/>
<polyline points="456.83,727.26 457.09,728.08 457.35,728.9" fill="none" stroke="#424242" stroke-width="1.27" stroke-linecap="round" stroke-linejoin="round"/>
<polyline points="457.35,728.9 457.62,729.72 457.9,730.52" fill="none" stroke="#3e3e3e" stroke-width="1.31" stroke-linecap="round" stroke-linejoin="round"/>
<polyline points="457.9,730.52 458.18,731.32 458.47,732.12" fill="none" stroke="#3a3a3a" stroke-width="1.36" stroke-linecap="round" stroke-linejoin="round"/>
<polyline points="458.47,732.12 458.77,732.91 459.08,733.69" fill="none" stroke="#353535" stroke-width="1.41" stroke-linecap="round" stroke-linejoin="round"/>
<polyline points="459.08,733.69 459.4,734.47 459.73,735.25" fill="none" stroke="#303030" stroke-width="1.46" stroke-linecap="round" stroke-linejoin="round"/>
<polyline points="459.73,735.25 460.08,736.02 460.45,736.8" fill="none" stroke="#2a2a2a" stroke-width="1.52" stroke-linecap="round" stroke-linejoin="round"/>
<polyline points="460.45,736.8 460.84,737.58 461.25,738.36" fill="none" stroke="#282828" stroke-width="1.55" stroke-linecap="round" stroke-linejoin="round"/>
<polyline points="461.25,738.36 461.67,739.14 462.11,739.91" fill="none" stroke="#282828" stroke-width="1.55" stroke-linecap="round" stroke-linejoin="round"/>
<polyline points="462.11,739.91 462.56,740.69 463.02,741.45" fill="none" stroke="#282828" stroke-width="1.55" stroke-linecap="round" stroke-linejoin="round"/>
<polyline points="463.02,741.45 463.48,742.21 463.94,742.96" fill="none" stroke="#282828" stroke-width="1.55" stroke-linecap="round" stroke-linejoin="round"/>
<polyline points="463.94,742.96 464.4,743.69 464.85,744.4" fill="none" stroke="#282828" stroke-width="1.55" stroke-linecap="round" stroke-linejoin="round"/>
<polyline points="464.85,744.4 465.29,745.1 465.72,745.77" fill="none" stroke="#282828" stroke-width="1.55" stroke-linecap="round" stroke-linejoin="round"/>
<polyline points="465.72,745.77 466.15,746.43 466.58,747.08" fill="none" stroke="#282828" stroke-width="1.55" stroke-linecap="round" stroke-linejoin="round"/>
<polyline points="466.58,747.08 467.01,747.73 467.45,748.36" fill="none" stroke="#282828" stroke-width="1.55" stroke-linecap="round" stroke-linejoin="round"/>
<polyline points="467.45,748.36 467.9,748.99 468.37,749.62" fill="none" stroke="#282828" stroke-width="1.55" stroke-linecap="round" stroke-linejoin="round"/>
<polyline points="468.37,749.62 468.85,750.26 469.35,750.9" fill="none" stroke="#282828" stroke-width="1.55" stroke-linecap="round" stroke-linejoin="round"/>
<polyline points="469.35,750.9 469.87,751.55 470.42,752.2" fill="none" stroke="#282828" stroke-width="1.55" stroke-linecap="round" stroke-linejoin="round"/>
<polyline points="470.42,752.2 470.98,752.85 471.55,753.5" fill="none" stroke="#282828" stroke-width="1.55" stroke-linecap="round" stroke-linejoin="round"/>
<polyline points="471.55,753.5 472.13,754.14 472.72,754.79" fill="none" stroke="#282828" stroke-width="1.55" stroke-linecap="round" stroke-linejoin="round"/>
<polyline points="472.72,754.79 473.32,755.43 473.93,756.06" fill="none" stroke="#282828" stroke-width="1.55" stroke-linecap="round" stroke-linejoin="round"/>
<polyline points="473.93,756.06 474.54,756.68 475.15,757.3" fill="none" stroke="#282828" stroke-width="1.55" stroke-linecap="round" stroke-linejoin="round"/>
<polyline points="475.15,757.3 475.77,757.91 476.4,758.52" fill="none" stroke="#282828" stroke-width="1.55" stroke-linecap="round" stroke-linejoin="round"/>
<polyline points="476.4,758.52 477.04,759.13 477.7,759.73" fill="none" stroke="#282828" stroke-width="1.55" stroke-linecap="round" stroke-linejoin="round"/>
<polyline points="477.7,759.73 478.35,760.32 479,760.9" fill="none" stroke="#282828" stroke-width="1.55" stroke-linecap="round" stroke-linejoin="round"/>
<polyline points="479,760.9 479.66,761.47 480.3,762.03" fill="none" stroke="#282828" stroke-width="1.55" stroke-linecap="round" stroke-linejoin="round"/>
<polyline points="480.3,762.03 480.93,762.58 481.55,763.1" fill="none" stroke="#282828" stroke-width="1.55" stroke-linecap="round" stroke-linejoin="round"/>
<polyline points="481.55,763.1 482.16,763.6 482.77,764.09" fill="none" stroke="#282828" stroke-width="1.55" stroke-linecap="round" stroke-linejoin="round"/>
<polyline points="482.77,764.09 483.38,764.56 483.99,765.01" fill="none" stroke="#282828" stroke-width="1.55" stroke-linecap="round" stroke-linejoin="round"/>
<polyline points="483.99,765.01 484.58,765.46 485.17,765.89" fill="none" stroke="#282828" stroke-width="1.55" stroke-linecap="round" stroke-linejoin="round"/>
<polyline points="485.17,765.89 485.74,766.32 486.3,766.75" fill="none" stroke="#282828" stroke-width="1.55" stroke-linecap="round" stroke-linejoin="round"/>
<polyline points="486.3,766.75 486.83,767.17 487.35,767.6" fill="none" stroke="#282828" stroke-width="1.55" stroke-linecap="round" stroke-linejoin="round"/>
<polyline points="487.35,767.6 487.86,768.04 488.37,768.51" fill="none" stroke="#282828" stroke-width="1.55" stroke-linecap="round" stroke-linejoin="round"/>
<polyline points="488.37,768.51 488.89,768.99 489.38,769.47" fill="none" stroke="#282828" stroke-width="1.55" stroke-linecap="round" stroke-linejoin="round"/>
<polyline points="489.38,769.47 489.86,769.93 490.31,770.37" fill="none" stroke="#282828" stroke-width="1.55" stroke-linecap="round" stroke-linejoin="round"/>
<polyline points="490.31,770.37 490.72,770.78 491.09,771.15" fill="none" stroke="#282828" stroke-width="1.55" stroke-linecap="round" stroke-linejoin="round"/>
<polyline points="491.09,771.15 491.4,771.46 491.65,771.7" fill="none" stroke="#282828" stroke-width="1.55" stroke-linecap="round" stroke-linejoin="round"/>
<text x="0.9" y="14.6" font-size="19.4" font-weight="normal" text-anchor="start" fill="#111" >(a)</text>
<text x="353.5" y="14.5" font-size="19.4" font-weight="normal" text-anchor="start" fill="#111" >(b)</text>
<text x="0.5" y="266" font-size="19.4" font-weight="normal" text-anchor="start" fill="#111" >(c)</text>
<text x="353.5" y="266" font-size="19.4" font-weight="normal" text-anchor="start" fill="#111" >(d)</text>
<text x="179.5" y="562" font-size="19.4" font-weight="normal" text-anchor="start" fill="#111" >(e)</text>
<rect x="203.4" y="10.8" width="106.5" height="12.9" fill="#fff" stroke="#c8c8c8" stroke-width="0.8"/>
<line x1="205.2" y1="17.3" x2="226.5" y2="17.3" stroke="#6a6a6a" stroke-width="0.8"/>
<text x="227.8" y="20.8" font-size="9.7" font-weight="normal" text-anchor="start" fill="#111" textLength="80.8" lengthAdjust="spacingAndGlyphs" >905 nm (2.9 nm) 1:1</text>
<rect x="561.4" y="8.1" width="112" height="12.6" fill="#fff" stroke="#c8c8c8" stroke-width="0.8"/>
<line x1="563.2" y1="14.3" x2="584.6" y2="14.3" stroke="#6a6a6a" stroke-width="0.8"/>
<text x="586.1" y="17.6" font-size="9.7" font-weight="normal" text-anchor="start" fill="#111" textLength="86.8" lengthAdjust="spacingAndGlyphs" >1210 nm (4.8 nm) 1:1</text>
<rect x="199.4" y="291.2" width="112.7" height="12.7" fill="#fff" stroke="#c8c8c8" stroke-width="0.8"/>
<line x1="201.1" y1="297.6" x2="223" y2="297.6" stroke="#6a6a6a" stroke-width="0.8"/>
<text x="224.3" y="301.1" font-size="9.7" font-weight="normal" text-anchor="start" fill="#111" textLength="87" lengthAdjust="spacingAndGlyphs" >1392 nm (5.2 nm) 1:1</text>
<rect x="393.4" y="586.1" width="105.9" height="12.8" fill="#fff" stroke="#555" stroke-width="0.8"/>
<line x1="395.2" y1="592.6" x2="415.7" y2="592.6" stroke="#6a6a6a" stroke-width="0.8"/>
<text x="417.3" y="596.1" font-size="9.7" font-weight="normal" text-anchor="start" fill="#111" textLength="80.6" lengthAdjust="spacingAndGlyphs" >905 nm (2.9 nm) 1:1</text>
<rect x="58" y="10.2" width="252.5" height="187.8" fill="none" stroke="#3c3c3c" stroke-width="1.2"/>
<line x1="58" y1="193.81" x2="61.5" y2="193.81" stroke="#3c3c3c" stroke-width="1"/>
<line x1="58" y1="151.97" x2="61.5" y2="151.97" stroke="#3c3c3c" stroke-width="1"/>
<line x1="58" y1="110.12" x2="61.5" y2="110.12" stroke="#3c3c3c" stroke-width="1"/>
<line x1="58" y1="68.27" x2="61.5" y2="68.27" stroke="#3c3c3c" stroke-width="1"/>
<line x1="58" y1="26.42" x2="61.5" y2="26.42" stroke="#3c3c3c" stroke-width="1"/>
<line x1="58" y1="172.89" x2="60" y2="172.89" stroke="#3c3c3c" stroke-width="1"/>
<line x1="58" y1="131.04" x2="60" y2="131.04" stroke="#3c3c3c" stroke-width="1"/>
<line x1="58" y1="89.19" x2="60" y2="89.19" stroke="#3c3c3c" stroke-width="1"/>
<line x1="58" y1="47.34" x2="60" y2="47.34" stroke="#3c3c3c" stroke-width="1"/>
<line x1="58" y1="198" x2="58" y2="194.5" stroke="#3c3c3c" stroke-width="1"/>
<line x1="108.5" y1="198" x2="108.5" y2="194.5" stroke="#3c3c3c" stroke-width="1"/>
<line x1="159" y1="198" x2="159" y2="194.5" stroke="#3c3c3c" stroke-width="1"/>
<line x1="209.5" y1="198" x2="209.5" y2="194.5" stroke="#3c3c3c" stroke-width="1"/>
<line x1="260" y1="198" x2="260" y2="194.5" stroke="#3c3c3c" stroke-width="1"/>
<line x1="310.5" y1="198" x2="310.5" y2="194.5" stroke="#3c3c3c" stroke-width="1"/>
<line x1="83.25" y1="198" x2="83.25" y2="196" stroke="#3c3c3c" stroke-width="1"/>
<line x1="133.75" y1="198" x2="133.75" y2="196" stroke="#3c3c3c" stroke-width="1"/>
<line x1="184.25" y1="198" x2="184.25" y2="196" stroke="#3c3c3c" stroke-width="1"/>
<line x1="234.75" y1="198" x2="234.75" y2="196" stroke="#3c3c3c" stroke-width="1"/>
<line x1="285.25" y1="198" x2="285.25" y2="196" stroke="#3c3c3c" stroke-width="1"/>
<rect x="419.8" y="7.6" width="254.4" height="188.7" fill="none" stroke="#3c3c3c" stroke-width="1.2"/>
<line x1="419.8" y1="183.9" x2="423.3" y2="183.9" stroke="#3c3c3c" stroke-width="1"/>
<line x1="419.8" y1="141.72" x2="423.3" y2="141.72" stroke="#3c3c3c" stroke-width="1"/>
<line x1="419.8" y1="99.54" x2="423.3" y2="99.54" stroke="#3c3c3c" stroke-width="1"/>
<line x1="419.8" y1="57.36" x2="423.3" y2="57.36" stroke="#3c3c3c" stroke-width="1"/>
<line x1="419.8" y1="15.18" x2="423.3" y2="15.18" stroke="#3c3c3c" stroke-width="1"/>
<line x1="419.8" y1="162.81" x2="421.8" y2="162.81" stroke="#3c3c3c" stroke-width="1"/>
<line x1="419.8" y1="120.63" x2="421.8" y2="120.63" stroke="#3c3c3c" stroke-width="1"/>
<line x1="419.8" y1="78.45" x2="421.8" y2="78.45" stroke="#3c3c3c" stroke-width="1"/>
<line x1="419.8" y1="36.27" x2="421.8" y2="36.27" stroke="#3c3c3c" stroke-width="1"/>
<line x1="419.8" y1="196.3" x2="419.8" y2="192.8" stroke="#3c3c3c" stroke-width="1"/>
<line x1="470.68" y1="196.3" x2="470.68" y2="192.8" stroke="#3c3c3c" stroke-width="1"/>
<line x1="521.56" y1="196.3" x2="521.56" y2="192.8" stroke="#3c3c3c" stroke-width="1"/>
<line x1="572.44" y1="196.3" x2="572.44" y2="192.8" stroke="#3c3c3c" stroke-width="1"/>
<line x1="623.32" y1="196.3" x2="623.32" y2="192.8" stroke="#3c3c3c" stroke-width="1"/>
<line x1="674.2" y1="196.3" x2="674.2" y2="192.8" stroke="#3c3c3c" stroke-width="1"/>
<line x1="445.24" y1="196.3" x2="445.24" y2="194.3" stroke="#3c3c3c" stroke-width="1"/>
<line x1="496.12" y1="196.3" x2="496.12" y2="194.3" stroke="#3c3c3c" stroke-width="1"/>
<line x1="547" y1="196.3" x2="547" y2="194.3" stroke="#3c3c3c" stroke-width="1"/>
<line x1="597.88" y1="196.3" x2="597.88" y2="194.3" stroke="#3c3c3c" stroke-width="1"/>
<line x1="648.76" y1="196.3" x2="648.76" y2="194.3" stroke="#3c3c3c" stroke-width="1"/>
<rect x="58.4" y="290.4" width="254.3" height="188.9" fill="none" stroke="#3c3c3c" stroke-width="1.2"/>
<line x1="58.4" y1="479.3" x2="61.9" y2="479.3" stroke="#3c3c3c" stroke-width="1"/>
<line x1="58.4" y1="437.35" x2="61.9" y2="437.35" stroke="#3c3c3c" stroke-width="1"/>
<line x1="58.4" y1="395.4" x2="61.9" y2="395.4" stroke="#3c3c3c" stroke-width="1"/>
<line x1="58.4" y1="353.45" x2="61.9" y2="353.45" stroke="#3c3c3c" stroke-width="1"/>
<line x1="58.4" y1="311.5" x2="61.9" y2="311.5" stroke="#3c3c3c" stroke-width="1"/>
<line x1="58.4" y1="458.32" x2="60.4" y2="458.32" stroke="#3c3c3c" stroke-width="1"/>
<line x1="58.4" y1="416.38" x2="60.4" y2="416.38" stroke="#3c3c3c" stroke-width="1"/>
<line x1="58.4" y1="374.43" x2="60.4" y2="374.43" stroke="#3c3c3c" stroke-width="1"/>
<line x1="58.4" y1="332.48" x2="60.4" y2="332.48" stroke="#3c3c3c" stroke-width="1"/>
<line x1="58.4" y1="479.3" x2="58.4" y2="475.8" stroke="#3c3c3c" stroke-width="1"/>
<line x1="109.26" y1="479.3" x2="109.26" y2="475.8" stroke="#3c3c3c" stroke-width="1"/>
<line x1="160.12" y1="479.3" x2="160.12" y2="475.8" stroke="#3c3c3c" stroke-width="1"/>
<line x1="210.98" y1="479.3" x2="210.98" y2="475.8" stroke="#3c3c3c" stroke-width="1"/>
<line x1="261.84" y1="479.3" x2="261.84" y2="475.8" stroke="#3c3c3c" stroke-width="1"/>
<line x1="312.7" y1="479.3" x2="312.7" y2="475.8" stroke="#3c3c3c" stroke-width="1"/>
<line x1="83.83" y1="479.3" x2="83.83" y2="477.3" stroke="#3c3c3c" stroke-width="1"/>
<line x1="134.69" y1="479.3" x2="134.69" y2="477.3" stroke="#3c3c3c" stroke-width="1"/>
<line x1="185.55" y1="479.3" x2="185.55" y2="477.3" stroke="#3c3c3c" stroke-width="1"/>
<line x1="236.41" y1="479.3" x2="236.41" y2="477.3" stroke="#3c3c3c" stroke-width="1"/>
<line x1="287.27" y1="479.3" x2="287.27" y2="477.3" stroke="#3c3c3c" stroke-width="1"/>
<text x="54.2" y="197.72" font-size="12.6" font-weight="bold" text-anchor="end" fill="#111" >200</text>
<text x="54.2" y="155.87" font-size="12.6" font-weight="bold" text-anchor="end" fill="#111" >300</text>
<text x="54.2" y="114.02" font-size="12.6" font-weight="bold" text-anchor="end" fill="#111" >400</text>
<text x="54.2" y="72.17" font-size="12.6" font-weight="bold" text-anchor="end" fill="#111" >500</text>
<text x="54.2" y="30.32" font-size="12.6" font-weight="bold" text-anchor="end" fill="#111" >600</text>
<text x="58" y="211.7" font-size="12.6" font-weight="bold" text-anchor="middle" fill="#111" >0</text>
<text x="108.5" y="211.7" font-size="12.6" font-weight="bold" text-anchor="middle" fill="#111" >20</text>
<text x="159" y="211.7" font-size="12.6" font-weight="bold" text-anchor="middle" fill="#111" >40</text>
<text x="209.5" y="211.7" font-size="12.6" font-weight="bold" text-anchor="middle" fill="#111" >60</text>
<text x="260" y="211.7" font-size="12.6" font-weight="bold" text-anchor="middle" fill="#111" >80</text>
<text x="310.5" y="211.7" font-size="12.6" font-weight="bold" text-anchor="middle" fill="#111" >100</text>
<text x="415.9" y="187.8" font-size="12.6" font-weight="bold" text-anchor="end" fill="#111" >300</text>
<text x="415.9" y="145.62" font-size="12.6" font-weight="bold" text-anchor="end" fill="#111" >400</text>
<text x="415.9" y="103.44" font-size="12.6" font-weight="bold" text-anchor="end" fill="#111" >500</text>
<text x="415.9" y="61.26" font-size="12.6" font-weight="bold" text-anchor="end" fill="#111" >600</text>
<text x="415.9" y="19.08" font-size="12.6" font-weight="bold" text-anchor="end" fill="#111" >700</text>
<text x="419.8" y="210.3" font-size="12.6" font-weight="bold" text-anchor="middle" fill="#111" >0</text>
<text x="470.68" y="210.3" font-size="12.6" font-weight="bold" text-anchor="middle" fill="#111" >20</text>
<text x="521.56" y="210.3" font-size="12.6" font-weight="bold" text-anchor="middle" fill="#111" >40</text>
<text x="572.44" y="210.3" font-size="12.6" font-weight="bold" text-anchor="middle" fill="#111" >60</text>
<text x="623.32" y="210.3" font-size="12.6" font-weight="bold" text-anchor="middle" fill="#111" >80</text>
<text x="674.2" y="210.3" font-size="12.6" font-weight="bold" text-anchor="middle" fill="#111" >100</text>
<text x="54.7" y="483.2" font-size="12.6" font-weight="bold" text-anchor="end" fill="#111" >300</text>
<text x="54.7" y="441.25" font-size="12.6" font-weight="bold" text-anchor="end" fill="#111" >400</text>
<text x="54.7" y="399.3" font-size="12.6" font-weight="bold" text-anchor="end" fill="#111" >500</text>
<text x="54.7" y="357.35" font-size="12.6" font-weight="bold" text-anchor="end" fill="#111" >600</text>
<text x="54.7" y="315.4" font-size="12.6" font-weight="bold" text-anchor="end" fill="#111" >700</text>
<text x="58.4" y="493.3" font-size="12.6" font-weight="bold" text-anchor="middle" fill="#111" >0</text>
<text x="109.26" y="493.3" font-size="12.6" font-weight="bold" text-anchor="middle" fill="#111" >20</text>
<text x="160.12" y="493.3" font-size="12.6" font-weight="bold" text-anchor="middle" fill="#111" >40</text>
<text x="210.98" y="493.3" font-size="12.6" font-weight="bold" text-anchor="middle" fill="#111" >60</text>
<text x="261.84" y="493.3" font-size="12.6" font-weight="bold" text-anchor="middle" fill="#111" >80</text>
<text x="312.7" y="493.3" font-size="12.6" font-weight="bold" text-anchor="middle" fill="#111" >100</text>
<text transform="translate(22.8 95.3) rotate(-90)" x="0" y="0" font-size="13" font-weight="bold" text-anchor="middle" fill="#111" textLength="70.5" lengthAdjust="spacingAndGlyphs">Current (uA)</text>
<text transform="translate(384.2 92.7) rotate(-90)" x="0" y="0" font-size="13" font-weight="bold" text-anchor="middle" fill="#111" textLength="71" lengthAdjust="spacingAndGlyphs">Current (uA)</text>
<text transform="translate(22.5 375.8) rotate(-90)" x="0" y="0" font-size="13" font-weight="bold" text-anchor="middle" fill="#111" textLength="70.5" lengthAdjust="spacingAndGlyphs">Current (uA)</text>
<text x="184.35" y="231.6" font-size="12.8" font-weight="bold" text-anchor="middle" fill="#111" textLength="59.5" lengthAdjust="spacingAndGlyphs" >Time (min)</text>
<text x="547.2" y="230.8" font-size="12.8" font-weight="bold" text-anchor="middle" fill="#111" textLength="59.5" lengthAdjust="spacingAndGlyphs" >Time (min)</text>
<text x="185.8" y="513.7" font-size="12.8" font-weight="bold" text-anchor="middle" fill="#111" textLength="59.5" lengthAdjust="spacingAndGlyphs" >Time (min)</text>
<text x="71.45" y="135.2" font-size="10" font-weight="bold" text-anchor="middle" fill="#111" >20</text>
<text x="72.35" y="146.6" font-size="10" font-weight="bold" text-anchor="middle" fill="#111" textLength="18.7" lengthAdjust="spacingAndGlyphs" >ppm</text>
<text x="121.8" y="135.2" font-size="10" font-weight="bold" text-anchor="middle" fill="#111" >15</text>
<text x="123" y="146.6" font-size="10" font-weight="bold" text-anchor="middle" fill="#111" textLength="18.7" lengthAdjust="spacingAndGlyphs" >ppm</text>
<text x="171.95" y="135.8" font-size="10" font-weight="bold" text-anchor="middle" fill="#111" >10</text>
<text x="173.25" y="147.2" font-size="10" font-weight="bold" text-anchor="middle" fill="#111" textLength="18.7" lengthAdjust="spacingAndGlyphs" >ppm</text>
<text x="222.3" y="136.4" font-size="10" font-weight="bold" text-anchor="middle" fill="#111" >5</text>
<text x="223.65" y="147.8" font-size="10" font-weight="bold" text-anchor="middle" fill="#111" textLength="18.7" lengthAdjust="spacingAndGlyphs" >ppm</text>
<text x="272.85" y="137.3" font-size="10" font-weight="bold" text-anchor="middle" fill="#111" >1</text>
<text x="273.8" y="149.1" font-size="10" font-weight="bold" text-anchor="middle" fill="#111" textLength="18.7" lengthAdjust="spacingAndGlyphs" >ppm</text>
<text x="433.45" y="133.8" font-size="10" font-weight="bold" text-anchor="middle" fill="#111" >20</text>
<text x="434.35" y="145.4" font-size="10" font-weight="bold" text-anchor="middle" fill="#111" textLength="18.7" lengthAdjust="spacingAndGlyphs" >ppm</text>
<text x="484.25" y="133.8" font-size="10" font-weight="bold" text-anchor="middle" fill="#111" >15</text>
<text x="485" y="145.4" font-size="10" font-weight="bold" text-anchor="middle" fill="#111" textLength="18.7" lengthAdjust="spacingAndGlyphs" >ppm</text>
<text x="534.8" y="134" font-size="10" font-weight="bold" text-anchor="middle" fill="#111" >10</text>
<text x="536" y="145.9" font-size="10" font-weight="bold" text-anchor="middle" fill="#111" textLength="18.7" lengthAdjust="spacingAndGlyphs" >ppm</text>
<text x="585.5" y="135" font-size="10" font-weight="bold" text-anchor="middle" fill="#111" >5</text>
<text x="586.85" y="146.5" font-size="10" font-weight="bold" text-anchor="middle" fill="#111" textLength="18.7" lengthAdjust="spacingAndGlyphs" >ppm</text>
<text x="636.4" y="135.7" font-size="10" font-weight="bold" text-anchor="middle" fill="#111" >1</text>
<text x="637.85" y="147.3" font-size="10" font-weight="bold" text-anchor="middle" fill="#111" textLength="18.7" lengthAdjust="spacingAndGlyphs" >ppm</text>
<text x="70.6" y="414.8" font-size="10" font-weight="bold" text-anchor="middle" fill="#111" >20</text>
<text x="71.75" y="427.3" font-size="10" font-weight="bold" text-anchor="middle" fill="#111" textLength="18.7" lengthAdjust="spacingAndGlyphs" >ppm</text>
<text x="121.35" y="414.8" font-size="10" font-weight="bold" text-anchor="middle" fill="#111" >15</text>
<text x="122.55" y="427.3" font-size="10" font-weight="bold" text-anchor="middle" fill="#111" textLength="18.7" lengthAdjust="spacingAndGlyphs" >ppm</text>
<text x="171.95" y="415.8" font-size="10" font-weight="bold" text-anchor="middle" fill="#111" >10</text>
<text x="173.1" y="427.9" font-size="10" font-weight="bold" text-anchor="middle" fill="#111" textLength="18.7" lengthAdjust="spacingAndGlyphs" >ppm</text>
<text x="222.6" y="415.8" font-size="10" font-weight="bold" text-anchor="middle" fill="#111" >5</text>
<text x="223.8" y="427.9" font-size="10" font-weight="bold" text-anchor="middle" fill="#111" textLength="18.7" lengthAdjust="spacingAndGlyphs" >ppm</text>
<text x="273.4" y="417" font-size="10" font-weight="bold" text-anchor="middle" fill="#111" >1</text>
<text x="274.85" y="429.2" font-size="10" font-weight="bold" text-anchor="middle" fill="#111" textLength="18.7" lengthAdjust="spacingAndGlyphs" >ppm</text>
<rect x="426.2" y="280" width="254.1" height="204" fill="none" stroke="#3c3c3c" stroke-width="1.2"/>
<line x1="426.2" y1="484" x2="429.7" y2="484" stroke="#3c3c3c" stroke-width="1"/>
<line x1="426.2" y1="450" x2="429.7" y2="450" stroke="#3c3c3c" stroke-width="1"/>
<line x1="426.2" y1="416" x2="429.7" y2="416" stroke="#3c3c3c" stroke-width="1"/>
<line x1="426.2" y1="382" x2="429.7" y2="382" stroke="#3c3c3c" stroke-width="1"/>
<line x1="426.2" y1="348" x2="429.7" y2="348" stroke="#3c3c3c" stroke-width="1"/>
<line x1="426.2" y1="314" x2="429.7" y2="314" stroke="#3c3c3c" stroke-width="1"/>
<line x1="426.2" y1="280" x2="429.7" y2="280" stroke="#3c3c3c" stroke-width="1"/>
<line x1="426.2" y1="467" x2="428.2" y2="467" stroke="#3c3c3c" stroke-width="1"/>
<line x1="426.2" y1="433" x2="428.2" y2="433" stroke="#3c3c3c" stroke-width="1"/>
<line x1="426.2" y1="399" x2="428.2" y2="399" stroke="#3c3c3c" stroke-width="1"/>
<line x1="426.2" y1="365" x2="428.2" y2="365" stroke="#3c3c3c" stroke-width="1"/>
<line x1="426.2" y1="331" x2="428.2" y2="331" stroke="#3c3c3c" stroke-width="1"/>
<line x1="426.2" y1="297" x2="428.2" y2="297" stroke="#3c3c3c" stroke-width="1"/>
<line x1="426.2" y1="484" x2="426.2" y2="480.5" stroke="#3c3c3c" stroke-width="1"/>
<line x1="483.85" y1="484" x2="483.85" y2="480.5" stroke="#3c3c3c" stroke-width="1"/>
<line x1="541.5" y1="484" x2="541.5" y2="480.5" stroke="#3c3c3c" stroke-width="1"/>
<line x1="599.15" y1="484" x2="599.15" y2="480.5" stroke="#3c3c3c" stroke-width="1"/>
<line x1="656.8" y1="484" x2="656.8" y2="480.5" stroke="#3c3c3c" stroke-width="1"/>
<line x1="455.02" y1="484" x2="455.02" y2="482" stroke="#3c3c3c" stroke-width="1"/>
<line x1="512.67" y1="484" x2="512.67" y2="482" stroke="#3c3c3c" stroke-width="1"/>
<line x1="570.33" y1="484" x2="570.33" y2="482" stroke="#3c3c3c" stroke-width="1"/>
<line x1="627.97" y1="484" x2="627.97" y2="482" stroke="#3c3c3c" stroke-width="1"/>
<polyline points="437.73,444.3 483.85,397.6 541.5,373.2 599.15,359.9 656.8,343.8" fill="none" stroke="#a8a8a8" stroke-width="0.8"/>
<polyline points="437.73,445.6 483.85,417.4 541.5,406.5 599.15,400 656.8,378.9" fill="none" stroke="#f2a0a0" stroke-width="0.8"/>
<polyline points="437.73,460.6 483.85,437.6 541.5,427 599.15,420.7 656.8,416.4" fill="none" stroke="#86b2ea" stroke-width="0.8"/>
<rect x="435.43" y="442" width="4.6" height="4.6" fill="#3d3d3d" stroke="none" stroke-width="0"/>
<rect x="481.55" y="395.3" width="4.6" height="4.6" fill="#3d3d3d" stroke="none" stroke-width="0"/>
<rect x="539.2" y="370.9" width="4.6" height="4.6" fill="#3d3d3d" stroke="none" stroke-width="0"/>
<rect x="596.85" y="357.6" width="4.6" height="4.6" fill="#3d3d3d" stroke="none" stroke-width="0"/>
<rect x="654.5" y="341.5" width="4.6" height="4.6" fill="#3d3d3d" stroke="none" stroke-width="0"/>
<circle cx="437.73" cy="445.6" r="2.6" fill="#ec3a3c"/>
<circle cx="483.85" cy="417.4" r="2.6" fill="#ec3a3c"/>
<circle cx="541.5" cy="406.5" r="2.6" fill="#ec3a3c"/>
<circle cx="599.15" cy="400" r="2.6" fill="#ec3a3c"/>
<circle cx="656.8" cy="378.9" r="2.6" fill="#ec3a3c"/>
<polygon points="437.73,457.85 434.63,462.85 440.83,462.85" fill="#1f6fd8"/>
<polygon points="483.85,434.85 480.75,439.85 486.95,439.85" fill="#1f6fd8"/>
<polygon points="541.5,424.25 538.4,429.25 544.6,429.25" fill="#1f6fd8"/>
<polygon points="599.15,417.95 596.05,422.95 602.25,422.95" fill="#1f6fd8"/>
<polygon points="656.8,413.65 653.7,418.65 659.9,418.65" fill="#1f6fd8"/>
<rect x="426.2" y="280" width="122.3" height="40.2" fill="#fff" stroke="#444" stroke-width="0.9"/>
<line x1="428.2" y1="287.5" x2="451.7" y2="287.5" stroke="#999999" stroke-width="0.9"/>
<rect x="437.7" y="285.3" width="4.4" height="4.4" fill="#3d3d3d" stroke="none" stroke-width="0"/>
<text x="453" y="291.1" font-size="11.3" font-weight="normal" text-anchor="start" fill="#111" textLength="88.5" lengthAdjust="spacingAndGlyphs" >905 nm (2.9 nm) 1:1</text>
<line x1="428.2" y1="300.4" x2="451.7" y2="300.4" stroke="#ef9090" stroke-width="0.9"/>
<circle cx="439.9" cy="300.4" r="2.5" fill="#ec3a3c"/>
<text x="454" y="304.2" font-size="11.3" font-weight="normal" text-anchor="start" fill="#111" textLength="92.5" lengthAdjust="spacingAndGlyphs" >1210 nm (4.8 nm) 1:1</text>
<line x1="428.2" y1="313.4" x2="451.7" y2="313.4" stroke="#78a8ea" stroke-width="0.9"/>
<polygon points="439.9,310.76 436.9,315.56 442.9,315.56" fill="#1f6fd8"/>
<text x="454" y="316.9" font-size="11.3" font-weight="normal" text-anchor="start" fill="#111" textLength="92.5" lengthAdjust="spacingAndGlyphs" >1392 nm (5.2 nm) 1:1</text>
<text x="421.6" y="487.5" font-size="11.3" font-weight="bold" text-anchor="end" fill="#111" textLength="14.8" lengthAdjust="spacingAndGlyphs" >0.0</text>
<text x="421.6" y="453.5" font-size="11.3" font-weight="bold" text-anchor="end" fill="#111" textLength="14.8" lengthAdjust="spacingAndGlyphs" >0.5</text>
<text x="421.6" y="419.5" font-size="11.3" font-weight="bold" text-anchor="end" fill="#111" textLength="14.8" lengthAdjust="spacingAndGlyphs" >1.0</text>
<text x="421.6" y="385.5" font-size="11.3" font-weight="bold" text-anchor="end" fill="#111" textLength="14.8" lengthAdjust="spacingAndGlyphs" >1.5</text>
<text x="421.6" y="351.5" font-size="11.3" font-weight="bold" text-anchor="end" fill="#111" textLength="14.8" lengthAdjust="spacingAndGlyphs" >2.0</text>
<text x="421.6" y="317.5" font-size="11.3" font-weight="bold" text-anchor="end" fill="#111" textLength="14.8" lengthAdjust="spacingAndGlyphs" >2.5</text>
<text x="421.6" y="283.5" font-size="11.3" font-weight="bold" text-anchor="end" fill="#111" textLength="14.8" lengthAdjust="spacingAndGlyphs" >3.0</text>
<text x="426.2" y="497" font-size="11.6" font-weight="bold" text-anchor="middle" fill="#111" >0</text>
<text x="483.85" y="497" font-size="11.6" font-weight="bold" text-anchor="middle" fill="#111" >5</text>
<text x="541.5" y="497" font-size="11.6" font-weight="bold" text-anchor="middle" fill="#111" >10</text>
<text x="599.15" y="497" font-size="11.6" font-weight="bold" text-anchor="middle" fill="#111" >15</text>
<text x="656.8" y="497" font-size="11.6" font-weight="bold" text-anchor="middle" fill="#111" >20</text>
<text x="552.8" y="517.3" font-size="13.2" font-weight="bold" text-anchor="middle" fill="#111" textLength="122" lengthAdjust="spacingAndGlyphs" >Concentration (ppm)</text>
<text transform="translate(399.8 381) rotate(-90)" x="0" y="0" font-size="13.2" font-weight="bold" text-anchor="middle" fill="#111" textLength="92.3" lengthAdjust="spacingAndGlyphs">Response <tspan font-weight="normal">(</tspan><tspan font-style="italic">&#916;I/I</tspan><tspan font-style="italic" font-size="9.5" dy="3.2">0</tspan><tspan dy="-3.2" font-weight="normal">)</tspan></text>
<text x="244.2" y="775.7" font-size="12" font-weight="bold" text-anchor="end" fill="#111" textLength="15.8" lengthAdjust="spacingAndGlyphs" >0.0</text>
<text x="244.2" y="744.7" font-size="12" font-weight="bold" text-anchor="end" fill="#111" textLength="15.8" lengthAdjust="spacingAndGlyphs" >0.5</text>
<text x="244.2" y="713.7" font-size="12" font-weight="bold" text-anchor="end" fill="#111" textLength="15.8" lengthAdjust="spacingAndGlyphs" >1.0</text>
<text x="244.2" y="682.7" font-size="12" font-weight="bold" text-anchor="end" fill="#111" textLength="15.8" lengthAdjust="spacingAndGlyphs" >1.5</text>
<text x="244.2" y="651.7" font-size="12" font-weight="bold" text-anchor="end" fill="#111" textLength="15.8" lengthAdjust="spacingAndGlyphs" >2.0</text>
<text x="244.2" y="620.7" font-size="12" font-weight="bold" text-anchor="end" fill="#111" textLength="15.8" lengthAdjust="spacingAndGlyphs" >2.5</text>
<text x="244.2" y="589.7" font-size="12" font-weight="bold" text-anchor="end" fill="#111" textLength="15.8" lengthAdjust="spacingAndGlyphs" >3.0</text>
<text x="248.2" y="784.9" font-size="12.4" font-weight="bold" text-anchor="middle" fill="#111" >0</text>
<text x="304.02" y="784.9" font-size="12.4" font-weight="bold" text-anchor="middle" fill="#111" >20</text>
<text x="359.84" y="784.9" font-size="12.4" font-weight="bold" text-anchor="middle" fill="#111" >40</text>
<text x="415.66" y="784.9" font-size="12.4" font-weight="bold" text-anchor="middle" fill="#111" >60</text>
<text x="471.48" y="784.9" font-size="12.4" font-weight="bold" text-anchor="middle" fill="#111" >80</text>
<text x="374.3" y="804" font-size="12.8" font-weight="bold" text-anchor="middle" fill="#111" textLength="58" lengthAdjust="spacingAndGlyphs" >Time (min)</text>
<text transform="translate(213.3 677.5) rotate(-90)" x="0" y="0" font-size="12.5" font-weight="bold" text-anchor="middle" fill="#111" textLength="83.5" lengthAdjust="spacingAndGlyphs">Response <tspan font-weight="normal">(</tspan><tspan font-style="italic">&#916;I/I</tspan><tspan font-style="italic" font-size="9" dy="3.2">0</tspan><tspan dy="-3.2" font-weight="normal">)</tspan></text>
<text x="299.2" y="606" font-size="10" font-weight="bold" text-anchor="middle" fill="#111" >20</text>
<text x="299.9" y="617.5" font-size="9.3" font-weight="bold" text-anchor="middle" fill="#111" textLength="18.6" lengthAdjust="spacingAndGlyphs" >ppm</text>
</svg></body></html>
